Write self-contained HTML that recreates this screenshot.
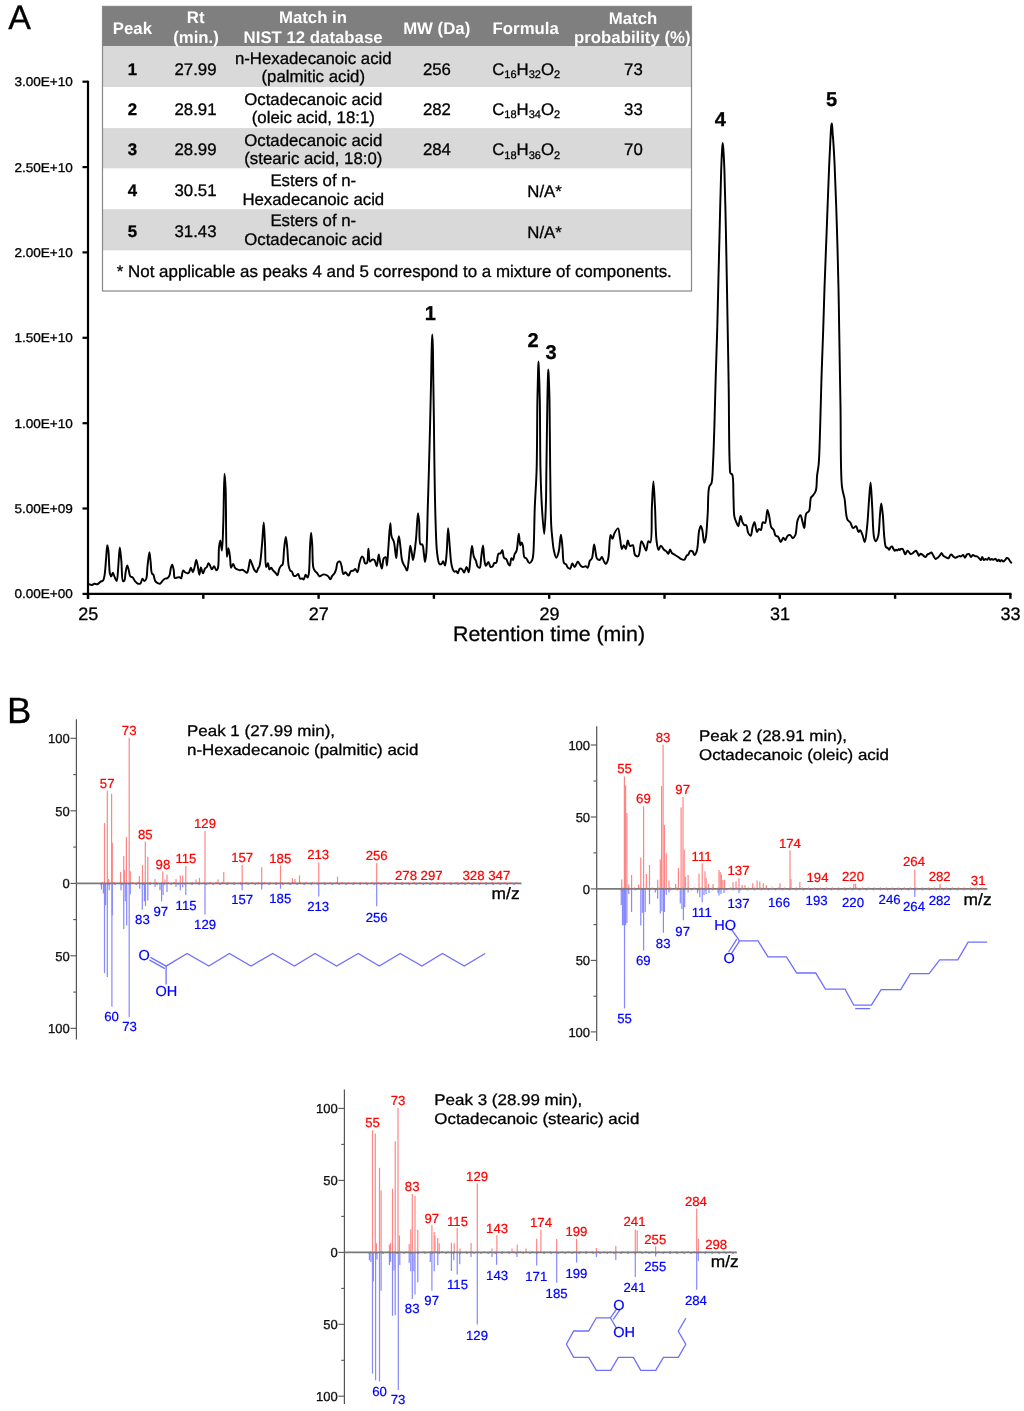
<!DOCTYPE html>
<html><head><meta charset="utf-8"><title>Figure</title>
<style>
html,body{margin:0;padding:0;background:#fff;}
body{width:1024px;height:1411px;overflow:hidden;}
svg{display:block;will-change:transform;font-family:"Liberation Sans", sans-serif;-webkit-font-smoothing:antialiased;}
text{text-rendering:geometricPrecision;}
</style></head>
<body>
<svg width="1024" height="1411" viewBox="0 0 1024 1411">
<rect width="1024" height="1411" fill="#fff"/>
<text x="8.2" y="29" font-size="34" text-anchor="start" font-weight="normal" fill="#000" stroke="#000" stroke-width="0.3">A</text>
<text x="6.9" y="722.6" font-size="36.5" text-anchor="start" font-weight="normal" fill="#000" stroke="#000" stroke-width="0.3">B</text>
<rect x="102.5" y="6.4" width="589.0" height="39.9" fill="#7f7f7f"/>
<rect x="102.5" y="46.3" width="589.0" height="40.900000000000006" fill="#d9d9d9"/>
<rect x="102.5" y="87.2" width="589.0" height="40.89999999999999" fill="#ffffff"/>
<rect x="102.5" y="128.1" width="589.0" height="40.5" fill="#d9d9d9"/>
<rect x="102.5" y="168.6" width="589.0" height="40.599999999999994" fill="#ffffff"/>
<rect x="102.5" y="209.2" width="589.0" height="41.400000000000006" fill="#d9d9d9"/>
<rect x="102.5" y="250.6" width="589.0" height="40.400000000000006" fill="#ffffff"/>
<rect x="102.5" y="6.4" width="589.0" height="284.6" fill="none" stroke="#888" stroke-width="1.2"/>
<text x="132.4" y="33.7" font-size="16.8" text-anchor="middle" font-weight="bold" fill="#ffffff">Peak</text>
<text x="195.7" y="23.4" font-size="16.8" text-anchor="middle" font-weight="bold" fill="#ffffff">Rt</text>
<text x="196" y="42.5" font-size="16.8" text-anchor="middle" font-weight="bold" fill="#ffffff">(min.)</text>
<text x="313" y="23.4" font-size="16.8" text-anchor="middle" font-weight="bold" fill="#ffffff">Match in</text>
<text x="313.1" y="42.5" font-size="16.8" text-anchor="middle" font-weight="bold" fill="#ffffff">NIST 12 database</text>
<text x="436.7" y="34.2" font-size="16.8" text-anchor="middle" font-weight="bold" fill="#ffffff">MW (Da)</text>
<text x="525.7" y="34.2" font-size="16.8" text-anchor="middle" font-weight="bold" fill="#ffffff">Formula</text>
<text x="633.1" y="23.9" font-size="16.8" text-anchor="middle" font-weight="bold" fill="#ffffff">Match</text>
<text x="632.3" y="42.5" font-size="16.8" text-anchor="middle" font-weight="bold" fill="#ffffff">probability (%)</text>
<text x="132.5" y="74.6" font-size="16.8" text-anchor="middle" font-weight="bold" fill="#000" stroke="#000" stroke-width="0.3">1</text>
<text x="195.5" y="74.6" font-size="16.8" text-anchor="middle" font-weight="normal" fill="#000" stroke="#000" stroke-width="0.3">27.99</text>
<text x="313.3" y="64.1" font-size="16.8" text-anchor="middle" font-weight="normal" fill="#000" stroke="#000" stroke-width="0.3">n-Hexadecanoic acid</text>
<text x="313.3" y="81.9" font-size="16.8" text-anchor="middle" font-weight="normal" fill="#000" stroke="#000" stroke-width="0.3">(palmitic acid)</text>
<text x="436.9" y="74.6" font-size="16.8" text-anchor="middle" font-weight="normal" fill="#000" stroke="#000" stroke-width="0.3">256</text>
<text x="526.2" y="74.6" font-size="16.8" text-anchor="middle" stroke="#000" stroke-width="0.3"><tspan dy="0">C</tspan><tspan font-size="11" dy="3.7">16</tspan><tspan dy="-3.7">H</tspan><tspan font-size="11" dy="3.7">32</tspan><tspan dy="-3.7">O</tspan><tspan font-size="11" dy="3.7">2</tspan></text>
<text x="633.4" y="74.6" font-size="16.8" text-anchor="middle" font-weight="normal" fill="#000" stroke="#000" stroke-width="0.3">73</text>
<text x="132.5" y="114.7" font-size="16.8" text-anchor="middle" font-weight="bold" fill="#000" stroke="#000" stroke-width="0.3">2</text>
<text x="195.5" y="114.7" font-size="16.8" text-anchor="middle" font-weight="normal" fill="#000" stroke="#000" stroke-width="0.3">28.91</text>
<text x="313.3" y="105.1" font-size="16.8" text-anchor="middle" font-weight="normal" fill="#000" stroke="#000" stroke-width="0.3">Octadecanoic acid</text>
<text x="313.3" y="123.4" font-size="16.8" text-anchor="middle" font-weight="normal" fill="#000" stroke="#000" stroke-width="0.3">(oleic acid, 18:1)</text>
<text x="436.9" y="114.7" font-size="16.8" text-anchor="middle" font-weight="normal" fill="#000" stroke="#000" stroke-width="0.3">282</text>
<text x="526.2" y="114.7" font-size="16.8" text-anchor="middle" stroke="#000" stroke-width="0.3"><tspan dy="0">C</tspan><tspan font-size="11" dy="3.7">18</tspan><tspan dy="-3.7">H</tspan><tspan font-size="11" dy="3.7">34</tspan><tspan dy="-3.7">O</tspan><tspan font-size="11" dy="3.7">2</tspan></text>
<text x="633.4" y="114.7" font-size="16.8" text-anchor="middle" font-weight="normal" fill="#000" stroke="#000" stroke-width="0.3">33</text>
<text x="132.5" y="154.9" font-size="16.8" text-anchor="middle" font-weight="bold" fill="#000" stroke="#000" stroke-width="0.3">3</text>
<text x="195.5" y="154.9" font-size="16.8" text-anchor="middle" font-weight="normal" fill="#000" stroke="#000" stroke-width="0.3">28.99</text>
<text x="313.3" y="145.5" font-size="16.8" text-anchor="middle" font-weight="normal" fill="#000" stroke="#000" stroke-width="0.3">Octadecanoic acid</text>
<text x="313.3" y="163.7" font-size="16.8" text-anchor="middle" font-weight="normal" fill="#000" stroke="#000" stroke-width="0.3">(stearic acid, 18:0)</text>
<text x="436.9" y="154.9" font-size="16.8" text-anchor="middle" font-weight="normal" fill="#000" stroke="#000" stroke-width="0.3">284</text>
<text x="526.2" y="154.9" font-size="16.8" text-anchor="middle" stroke="#000" stroke-width="0.3"><tspan dy="0">C</tspan><tspan font-size="11" dy="3.7">18</tspan><tspan dy="-3.7">H</tspan><tspan font-size="11" dy="3.7">36</tspan><tspan dy="-3.7">O</tspan><tspan font-size="11" dy="3.7">2</tspan></text>
<text x="633.4" y="154.9" font-size="16.8" text-anchor="middle" font-weight="normal" fill="#000" stroke="#000" stroke-width="0.3">70</text>
<text x="132.5" y="196.3" font-size="16.8" text-anchor="middle" font-weight="bold" fill="#000" stroke="#000" stroke-width="0.3">4</text>
<text x="195.5" y="196.3" font-size="16.8" text-anchor="middle" font-weight="normal" fill="#000" stroke="#000" stroke-width="0.3">30.51</text>
<text x="313.3" y="185.6" font-size="16.8" text-anchor="middle" font-weight="normal" fill="#000" stroke="#000" stroke-width="0.3">Esters of n-</text>
<text x="313.3" y="204.7" font-size="16.8" text-anchor="middle" font-weight="normal" fill="#000" stroke="#000" stroke-width="0.3">Hexadecanoic acid</text>
<text x="544.6" y="196.9" font-size="16.8" text-anchor="middle" font-weight="normal" fill="#000" stroke="#000" stroke-width="0.3">N/A*</text>
<text x="132.5" y="236.9" font-size="16.8" text-anchor="middle" font-weight="bold" fill="#000" stroke="#000" stroke-width="0.3">5</text>
<text x="195.5" y="236.9" font-size="16.8" text-anchor="middle" font-weight="normal" fill="#000" stroke="#000" stroke-width="0.3">31.43</text>
<text x="313.3" y="226.1" font-size="16.8" text-anchor="middle" font-weight="normal" fill="#000" stroke="#000" stroke-width="0.3">Esters of n-</text>
<text x="313.3" y="245.1" font-size="16.8" text-anchor="middle" font-weight="normal" fill="#000" stroke="#000" stroke-width="0.3">Octadecanoic acid</text>
<text x="544.6" y="237.5" font-size="16.8" text-anchor="middle" font-weight="normal" fill="#000" stroke="#000" stroke-width="0.3">N/A*</text>
<text x="116.8" y="277.4" font-size="16.8" text-anchor="start" font-weight="normal" fill="#000" stroke="#000" stroke-width="0.3" textLength="555" lengthAdjust="spacingAndGlyphs">* Not applicable as peaks 4 and 5 correspond to a mixture of components.</text>
<line x1="88" y1="80.7" x2="88" y2="599" stroke="#000" stroke-width="2.2"/>
<line x1="87" y1="593.9" x2="1011.5" y2="593.9" stroke="#000" stroke-width="2.2"/>
<line x1="82.5" y1="81.7" x2="88" y2="81.7" stroke="#000" stroke-width="2.2"/>
<text x="72.9" y="86.1" font-size="12.8" text-anchor="end" font-weight="normal" fill="#000" stroke="#000" stroke-width="0.3" textLength="58.5" lengthAdjust="spacingAndGlyphs">3.00E+10</text>
<line x1="82.5" y1="167.1" x2="88" y2="167.1" stroke="#000" stroke-width="2.2"/>
<text x="72.9" y="171.5" font-size="12.8" text-anchor="end" font-weight="normal" fill="#000" stroke="#000" stroke-width="0.3" textLength="58.5" lengthAdjust="spacingAndGlyphs">2.50E+10</text>
<line x1="82.5" y1="252.4" x2="88" y2="252.4" stroke="#000" stroke-width="2.2"/>
<text x="72.9" y="256.8" font-size="12.8" text-anchor="end" font-weight="normal" fill="#000" stroke="#000" stroke-width="0.3" textLength="58.5" lengthAdjust="spacingAndGlyphs">2.00E+10</text>
<line x1="82.5" y1="337.8" x2="88" y2="337.8" stroke="#000" stroke-width="2.2"/>
<text x="72.9" y="342.2" font-size="12.8" text-anchor="end" font-weight="normal" fill="#000" stroke="#000" stroke-width="0.3" textLength="58.5" lengthAdjust="spacingAndGlyphs">1.50E+10</text>
<line x1="82.5" y1="423.2" x2="88" y2="423.2" stroke="#000" stroke-width="2.2"/>
<text x="72.9" y="427.6" font-size="12.8" text-anchor="end" font-weight="normal" fill="#000" stroke="#000" stroke-width="0.3" textLength="58.5" lengthAdjust="spacingAndGlyphs">1.00E+10</text>
<line x1="82.5" y1="508.5" x2="88" y2="508.5" stroke="#000" stroke-width="2.2"/>
<text x="72.9" y="512.9" font-size="12.8" text-anchor="end" font-weight="normal" fill="#000" stroke="#000" stroke-width="0.3" textLength="58.5" lengthAdjust="spacingAndGlyphs">5.00E+09</text>
<line x1="82.5" y1="593.9" x2="88" y2="593.9" stroke="#000" stroke-width="2.2"/>
<text x="72.9" y="598.3" font-size="12.8" text-anchor="end" font-weight="normal" fill="#000" stroke="#000" stroke-width="0.3" textLength="58.5" lengthAdjust="spacingAndGlyphs">0.00E+00</text>
<line x1="88.0" y1="593.9" x2="88.0" y2="598.8" stroke="#000" stroke-width="2.4"/>
<text x="88.2" y="619.9" font-size="18" text-anchor="middle" font-weight="normal" fill="#000" stroke="#000" stroke-width="0.3">25</text>
<line x1="203.3" y1="593.9" x2="203.3" y2="598.8" stroke="#000" stroke-width="2.4"/>
<line x1="318.6" y1="593.9" x2="318.6" y2="598.8" stroke="#000" stroke-width="2.4"/>
<text x="318.8" y="619.9" font-size="18" text-anchor="middle" font-weight="normal" fill="#000" stroke="#000" stroke-width="0.3">27</text>
<line x1="433.9" y1="593.9" x2="433.9" y2="598.8" stroke="#000" stroke-width="2.4"/>
<line x1="549.2" y1="593.9" x2="549.2" y2="598.8" stroke="#000" stroke-width="2.4"/>
<text x="549.4" y="619.9" font-size="18" text-anchor="middle" font-weight="normal" fill="#000" stroke="#000" stroke-width="0.3">29</text>
<line x1="664.5" y1="593.9" x2="664.5" y2="598.8" stroke="#000" stroke-width="2.4"/>
<line x1="779.8" y1="593.9" x2="779.8" y2="598.8" stroke="#000" stroke-width="2.4"/>
<text x="780.0" y="619.9" font-size="18" text-anchor="middle" font-weight="normal" fill="#000" stroke="#000" stroke-width="0.3">31</text>
<line x1="895.1" y1="593.9" x2="895.1" y2="598.8" stroke="#000" stroke-width="2.4"/>
<line x1="1010.4" y1="593.9" x2="1010.4" y2="598.8" stroke="#000" stroke-width="2.4"/>
<text x="1010.6" y="619.9" font-size="18" text-anchor="middle" font-weight="normal" fill="#000" stroke="#000" stroke-width="0.3">33</text>
<text x="549" y="640.5" font-size="21" text-anchor="middle" font-weight="normal" fill="#000" stroke="#000" stroke-width="0.3" textLength="192" lengthAdjust="spacingAndGlyphs">Retention time (min)</text>
<text x="430.4" y="319.9" font-size="20" text-anchor="middle" font-weight="bold" fill="#000" stroke="#000" stroke-width="0.3">1</text>
<text x="533" y="346.6" font-size="20" text-anchor="middle" font-weight="bold" fill="#000" stroke="#000" stroke-width="0.3">2</text>
<text x="551" y="358.6" font-size="20" text-anchor="middle" font-weight="bold" fill="#000" stroke="#000" stroke-width="0.3">3</text>
<text x="720.2" y="126.4" font-size="20" text-anchor="middle" font-weight="bold" fill="#000" stroke="#000" stroke-width="0.3">4</text>
<text x="831.5" y="105.8" font-size="20" text-anchor="middle" font-weight="bold" fill="#000" stroke="#000" stroke-width="0.3">5</text>
<path d="M88.90,584.20 C88.90,584.20 91.05,585.11 92.00,585.00 C92.87,584.90 93.52,583.90 94.40,583.75 C95.34,583.59 96.52,584.48 97.50,584.20 C98.61,583.89 99.59,582.22 100.60,581.60 C101.41,581.11 102.38,581.28 103.00,580.60 C103.87,579.63 104.07,577.79 104.50,575.60 C105.28,571.61 105.61,563.75 106.10,558.40 C106.53,553.71 106.80,545.23 107.30,545.20 C107.62,545.18 108.07,548.15 108.40,550.60 C109.08,555.65 108.95,570.26 110.00,574.00 C110.36,575.27 110.83,576.42 111.25,576.40 C111.76,576.38 112.26,572.80 112.80,572.80 C113.40,572.80 114.03,575.79 114.70,577.20 C115.34,578.55 116.17,581.20 116.70,581.10 C117.69,580.92 117.81,571.49 118.30,566.25 C118.85,560.37 119.24,547.51 119.80,547.50 C120.29,547.49 120.90,556.52 121.40,561.60 C121.98,567.57 121.56,580.17 123.00,581.10 C123.40,581.36 124.02,581.06 124.40,580.60 C125.29,579.52 125.11,575.09 125.60,572.50 C126.06,570.07 126.62,565.53 127.20,565.50 C127.68,565.48 128.26,568.52 128.75,570.20 C129.30,572.11 129.34,575.24 130.30,576.40 C130.92,577.14 131.99,576.88 132.70,577.50 C133.61,578.29 134.09,580.05 135.00,581.10 C135.89,582.13 137.06,583.45 138.10,583.75 C138.90,583.98 139.84,583.91 140.50,583.40 C141.46,582.67 141.75,578.85 142.50,578.75 C143.08,578.67 143.77,581.10 144.40,581.10 C145.02,581.10 145.77,579.94 146.25,578.75 C147.24,576.30 147.00,570.53 147.50,566.25 C148.04,561.70 148.85,552.20 149.40,552.20 C149.85,552.20 150.21,558.29 150.60,561.60 C151.04,565.29 150.94,571.31 151.90,573.30 C152.31,574.14 152.95,574.05 153.40,574.80 C154.19,576.12 154.35,579.67 155.30,581.10 C155.95,582.08 156.86,582.66 157.70,583.10 C158.44,583.49 159.29,583.96 160.00,583.75 C160.86,583.49 161.51,581.94 162.30,581.10 C163.08,580.28 163.83,579.18 164.70,578.75 C165.42,578.39 166.29,578.79 167.00,578.40 C167.89,577.90 168.79,576.87 169.40,575.60 C170.30,573.73 170.30,569.79 170.90,567.80 C171.29,566.51 171.78,564.67 172.20,564.70 C172.74,564.73 173.33,568.19 173.75,570.20 C174.24,572.56 173.75,577.26 174.80,578.00 C175.38,578.41 176.41,577.63 177.20,577.50 C177.97,577.37 178.83,577.04 179.50,577.20 C180.11,577.35 180.63,578.47 181.10,578.30 C182.04,577.95 182.13,570.91 183.10,570.60 C183.64,570.43 184.31,571.75 185.00,572.20 C185.70,572.65 186.59,573.25 187.30,573.30 C187.87,573.34 188.42,573.24 188.90,572.80 C189.75,572.01 190.23,567.81 190.90,567.80 C191.53,567.79 192.21,572.22 192.80,572.20 C193.38,572.18 193.89,569.49 194.40,567.80 C195.06,565.59 195.65,560.00 196.25,560.00 C196.78,560.00 197.31,564.00 197.80,566.25 C198.37,568.87 198.86,574.80 199.40,574.80 C199.90,574.80 200.26,567.55 200.90,567.50 C201.48,567.46 202.28,573.28 203.00,573.30 C203.65,573.32 204.19,569.69 205.00,568.60 C205.56,567.84 206.37,567.74 206.90,567.00 C207.58,566.04 207.82,563.16 208.40,563.10 C208.88,563.05 209.47,564.58 210.00,565.50 C210.64,566.62 211.19,569.34 211.90,569.40 C212.57,569.45 213.40,566.21 214.10,566.25 C214.86,566.29 215.52,570.10 216.25,570.20 C216.76,570.27 217.38,569.56 217.80,568.60 C219.10,565.64 218.38,552.63 219.00,547.50 C219.36,544.52 219.86,540.49 220.30,540.50 C220.83,540.51 221.46,550.62 221.90,550.60 C222.63,550.56 222.90,533.15 223.30,522.50 C223.82,508.48 223.92,473.77 224.50,473.75 C224.81,473.74 225.29,481.46 225.60,488.00 C226.29,502.35 225.75,556.81 226.90,556.90 C227.31,556.93 227.88,548.30 228.40,548.30 C228.92,548.30 229.56,553.85 230.00,556.90 C230.49,560.31 230.31,567.65 231.10,567.80 C231.60,567.89 232.45,563.89 233.10,563.90 C233.75,563.91 234.19,566.85 235.00,567.80 C235.65,568.56 236.49,569.00 237.30,569.40 C238.07,569.78 238.88,570.13 239.70,570.20 C240.54,570.27 241.48,569.64 242.30,569.80 C243.15,569.97 243.91,570.75 244.70,571.25 C245.48,571.75 246.39,573.01 247.00,572.80 C247.84,572.51 248.11,569.68 248.60,567.80 C249.21,565.44 249.54,559.77 250.20,559.70 C250.64,559.65 251.16,561.79 251.70,563.10 C252.43,564.87 253.16,567.78 254.10,569.40 C254.79,570.59 255.76,572.29 256.40,572.20 C257.07,572.11 257.45,569.69 258.00,568.60 C258.48,567.65 259.05,567.34 259.50,566.00 C260.66,562.51 261.21,552.86 261.90,545.90 C262.64,538.40 263.23,522.49 263.75,522.50 C264.25,522.51 264.61,537.04 265.00,544.40 C265.40,551.87 265.12,566.79 266.10,567.00 C266.43,567.07 266.94,565.40 267.30,564.70 C267.60,564.12 267.85,563.07 268.10,563.10 C268.58,563.16 268.62,569.13 269.40,569.40 C269.88,569.56 270.70,567.72 271.25,567.80 C271.84,567.89 272.18,569.44 272.80,570.20 C273.47,571.02 274.43,571.67 275.20,572.50 C276.00,573.37 276.89,575.43 277.50,575.30 C278.29,575.13 278.44,571.07 279.10,569.40 C279.62,568.08 280.23,566.82 280.90,566.00 C281.39,565.40 282.06,565.52 282.50,564.70 C283.73,562.43 283.51,553.89 284.10,549.00 C284.62,544.70 285.27,536.90 285.80,536.90 C286.30,536.90 286.77,543.46 287.20,547.50 C287.78,552.86 287.88,562.22 288.75,566.25 C289.18,568.25 289.60,569.69 290.30,570.60 C290.76,571.19 291.41,571.12 291.90,571.70 C292.66,572.59 292.98,575.40 293.90,575.90 C294.56,576.26 295.55,575.91 296.25,575.60 C296.96,575.28 297.54,573.87 298.10,574.00 C298.92,574.18 299.27,578.26 300.20,578.75 C300.78,579.06 301.60,578.26 302.20,578.40 C302.78,578.53 303.29,579.64 303.75,579.50 C304.51,579.27 304.89,574.88 305.60,574.80 C306.17,574.73 306.98,577.57 307.50,577.50 C308.05,577.43 308.40,575.75 308.75,574.00 C309.67,569.33 309.54,555.05 310.00,547.50 C310.34,541.85 310.71,532.70 311.10,532.70 C311.45,532.70 311.87,539.83 312.20,544.40 C312.67,550.86 312.31,563.65 313.40,567.80 C313.83,569.42 314.33,570.07 315.00,571.00 C315.64,571.89 316.55,572.45 317.30,573.30 C318.12,574.23 318.87,576.24 319.70,576.40 C320.32,576.52 320.95,575.63 321.60,575.30 C322.25,574.97 322.90,574.49 323.60,574.40 C324.33,574.31 325.16,574.50 325.90,574.80 C326.73,575.13 327.59,575.71 328.30,576.40 C329.07,577.15 329.66,579.23 330.30,579.20 C330.97,579.17 331.48,576.90 332.20,575.90 C332.89,574.94 333.87,574.32 334.50,573.30 C335.20,572.18 335.62,570.92 336.10,569.40 C336.73,567.41 336.66,563.42 337.70,562.30 C338.30,561.66 339.40,561.29 340.00,561.60 C340.86,562.04 341.09,564.49 341.60,566.25 C342.24,568.49 342.43,573.68 343.40,574.00 C343.97,574.19 344.88,572.15 345.50,572.20 C346.07,572.25 346.48,573.43 347.00,574.00 C347.51,574.56 348.07,575.68 348.60,575.60 C349.38,575.48 349.92,572.03 350.90,571.25 C351.59,570.70 352.57,570.97 353.30,570.60 C354.04,570.22 354.67,568.91 355.30,569.00 C356.08,569.12 356.89,572.32 357.50,572.20 C358.45,572.01 358.69,565.85 359.50,563.10 C360.20,560.73 360.99,556.87 361.90,556.60 C362.37,556.46 362.97,557.09 363.40,557.70 C364.15,558.76 364.11,562.44 365.00,563.10 C365.51,563.48 366.39,563.56 366.90,563.10 C368.31,561.83 367.87,548.76 368.40,548.75 C368.90,548.75 368.84,561.19 370.00,561.60 C370.53,561.79 371.24,559.95 372.00,559.70 C372.72,559.46 373.73,559.47 374.40,560.00 C375.52,560.89 376.04,566.31 376.70,566.25 C377.58,566.17 378.11,554.50 378.75,554.50 C379.30,554.50 379.70,560.57 380.30,563.10 C380.78,565.15 381.40,568.63 381.90,568.60 C382.57,568.57 382.64,560.07 383.75,558.40 C384.26,557.63 385.12,556.98 385.60,557.20 C386.54,557.62 386.50,565.51 386.90,565.50 C387.48,565.48 387.88,553.94 388.40,547.50 C389.00,540.03 389.69,523.31 390.30,523.30 C390.75,523.30 390.73,533.20 391.60,536.60 C392.18,538.85 393.24,539.67 393.90,542.00 C394.99,545.89 395.66,558.11 396.25,558.10 C396.73,558.09 396.87,551.09 397.30,547.50 C397.75,543.76 398.37,536.10 398.90,536.10 C399.43,536.10 399.99,543.61 400.50,547.50 C401.03,551.57 401.27,556.93 402.00,560.00 C402.45,561.87 403.00,563.15 403.60,564.40 C404.09,565.41 404.67,566.05 405.20,567.00 C405.81,568.09 406.49,570.68 407.00,570.60 C407.83,570.47 408.23,563.81 408.75,560.00 C409.35,555.57 409.68,545.63 410.30,545.60 C410.77,545.58 411.43,551.21 411.90,553.75 C412.31,555.97 412.60,560.00 413.00,560.00 C413.45,560.00 414.04,555.19 414.50,552.20 C415.11,548.20 415.59,543.47 416.10,538.10 C416.78,530.96 417.36,513.12 418.00,513.10 C418.40,513.09 418.85,518.71 419.20,522.50 C419.74,528.27 418.78,542.77 420.50,544.40 C420.99,544.87 421.81,543.99 422.30,544.40 C423.42,545.35 423.44,550.74 423.90,553.75 C424.33,556.56 424.61,561.90 425.00,561.90 C425.39,561.90 425.89,557.60 426.25,553.75 C427.10,544.57 427.34,521.59 427.80,506.90 C428.21,493.87 428.53,483.23 428.90,470.00 C429.33,454.60 429.82,435.74 430.20,420.00 C430.54,405.92 430.83,392.89 431.10,380.00 C431.36,367.94 431.52,353.26 431.80,345.00 C431.95,340.48 432.13,334.50 432.30,334.50 C432.47,334.50 432.66,340.48 432.80,345.00 C433.06,353.26 433.12,367.94 433.30,380.00 C433.49,392.89 433.71,405.92 433.90,420.00 C434.11,435.74 434.22,453.13 434.50,470.00 C434.78,487.29 435.05,507.26 435.60,522.50 C436.02,534.26 436.16,546.22 437.20,553.75 C437.80,558.09 438.19,562.85 439.50,563.90 C440.09,564.37 441.03,564.23 441.60,563.90 C442.29,563.50 442.59,561.23 443.10,561.25 C443.72,561.28 444.48,565.57 445.00,565.50 C445.83,565.38 446.14,558.42 446.60,553.75 C447.27,546.90 447.52,528.31 448.10,528.30 C448.58,528.29 449.17,540.07 449.70,545.90 C450.22,551.67 450.53,558.80 451.25,563.10 C451.69,565.74 452.11,567.86 452.80,569.40 C453.26,570.41 453.75,571.45 454.40,571.70 C454.94,571.90 455.71,571.06 456.25,571.25 C456.87,571.47 457.30,573.36 457.80,573.30 C458.50,573.21 458.86,569.02 459.80,568.60 C460.46,568.30 461.52,568.86 462.20,569.40 C463.01,570.04 463.46,572.54 464.10,572.50 C464.92,572.45 465.81,566.99 466.60,567.00 C467.36,567.01 468.18,572.28 468.75,572.20 C469.59,572.09 469.78,564.21 470.30,560.00 C470.86,555.47 471.36,545.92 472.00,545.90 C472.57,545.89 473.00,554.21 473.90,556.90 C474.46,558.58 475.33,559.36 475.90,560.80 C476.55,562.44 476.65,565.06 477.50,566.25 C478.08,567.07 479.12,568.05 479.70,567.80 C480.86,567.30 480.71,560.57 481.25,556.90 C481.81,553.14 482.50,545.49 483.00,545.50 C483.57,545.52 483.75,556.25 484.40,560.00 C484.82,562.42 485.16,565.78 485.90,565.90 C486.55,566.00 487.64,561.84 488.40,561.90 C489.22,561.96 489.64,566.58 490.60,567.00 C491.21,567.26 492.13,566.76 492.70,566.25 C493.41,565.61 493.48,563.63 494.20,563.10 C494.75,562.69 495.68,563.32 496.25,562.80 C497.46,561.69 497.18,554.89 498.40,553.75 C498.98,553.20 499.90,553.81 500.50,553.40 C501.27,552.86 501.79,550.22 502.30,550.30 C503.05,550.41 503.00,556.25 504.00,557.70 C504.60,558.56 505.61,558.43 506.25,559.20 C507.14,560.26 507.57,562.79 508.30,563.90 C508.78,564.63 509.37,565.62 509.80,565.50 C510.59,565.28 510.61,558.30 511.40,558.10 C511.85,557.99 512.55,560.10 513.00,560.00 C513.69,559.85 513.84,556.14 514.50,554.50 C515.08,553.05 516.01,552.43 516.60,550.60 C517.75,547.02 518.08,533.75 518.75,533.75 C519.30,533.75 519.56,545.08 520.30,545.20 C520.68,545.26 521.18,542.49 521.60,542.50 C522.02,542.51 522.45,543.94 522.80,545.20 C523.52,547.74 523.23,555.35 524.40,557.20 C524.90,557.99 525.62,557.78 526.25,558.40 C527.26,559.40 528.33,563.02 529.40,563.10 C530.32,563.17 531.55,561.33 532.20,560.00 C533.00,558.36 532.98,556.82 533.30,553.75 C534.16,545.41 534.21,521.58 534.80,506.90 C535.33,493.86 536.17,484.26 536.60,470.00 C537.19,450.37 537.08,418.46 537.40,400.00 C537.61,387.91 537.86,376.95 538.10,370.00 C538.23,366.30 538.37,361.50 538.50,361.50 C538.63,361.50 538.76,366.30 538.90,370.00 C539.17,376.95 539.56,387.91 539.80,400.00 C540.17,418.46 540.03,450.37 540.50,470.00 C540.84,484.25 541.20,495.55 541.90,506.90 C542.50,516.64 543.55,534.01 544.20,534.00 C544.85,533.99 545.43,516.63 545.80,506.90 C546.23,495.55 546.18,484.25 546.40,470.00 C546.70,450.37 547.09,416.76 547.40,400.00 C547.57,390.60 547.70,383.62 547.90,378.00 C548.02,374.50 548.15,369.50 548.30,369.50 C548.45,369.50 548.64,374.50 548.80,378.00 C549.05,383.62 549.30,390.60 549.50,400.00 C549.85,416.76 549.88,448.01 550.20,470.00 C550.48,489.60 550.64,513.68 551.25,525.60 C551.54,531.26 551.86,533.94 552.30,538.10 C552.74,542.27 553.09,547.05 553.90,550.60 C554.52,553.33 555.42,557.66 556.25,557.70 C556.99,557.73 557.94,554.61 558.60,552.20 C559.73,548.06 560.21,534.70 560.90,534.70 C561.49,534.70 562.00,543.02 562.50,547.50 C563.05,552.44 562.60,560.84 564.00,563.10 C564.56,564.00 565.49,563.76 566.10,564.40 C566.87,565.21 567.18,567.11 568.00,567.80 C568.65,568.34 569.66,568.90 570.30,568.60 C571.26,568.15 571.51,563.49 572.30,563.40 C573.00,563.32 573.87,567.03 574.70,567.00 C575.69,566.97 576.77,561.64 577.80,561.60 C578.70,561.56 579.54,564.57 580.50,565.50 C581.23,566.21 581.94,566.85 582.80,567.00 C583.73,567.16 585.03,566.05 585.90,566.25 C586.66,566.42 587.26,567.97 587.80,567.80 C588.74,567.51 588.90,562.46 589.80,560.80 C590.40,559.70 591.31,559.65 591.90,558.40 C593.14,555.75 593.40,544.41 594.10,544.40 C594.62,544.39 595.11,549.75 595.60,552.20 C596.04,554.39 595.96,557.10 596.90,558.40 C597.57,559.33 598.89,560.18 599.70,560.00 C600.58,559.81 601.23,556.84 601.90,556.90 C602.65,556.97 603.18,560.01 603.90,561.25 C604.50,562.27 605.18,563.95 605.80,563.90 C606.59,563.83 607.45,561.46 608.10,559.20 C609.49,554.34 609.30,535.23 610.60,535.00 C611.15,534.90 611.91,538.94 612.50,538.90 C613.19,538.86 613.50,535.13 614.40,533.40 C615.32,531.62 617.10,528.21 618.00,528.40 C619.14,528.64 619.37,534.77 620.00,538.10 C620.67,541.62 621.04,548.88 621.90,549.00 C622.43,549.07 623.10,545.21 623.75,545.20 C624.40,545.19 625.21,549.08 625.80,549.00 C626.65,548.89 627.01,540.56 627.80,540.50 C628.45,540.45 628.92,545.35 630.00,545.90 C630.76,546.29 632.04,544.74 632.80,545.20 C634.24,546.07 633.72,553.79 635.20,555.30 C636.02,556.14 637.44,556.63 638.30,556.10 C640.17,554.94 640.12,541.46 641.40,541.25 C642.11,541.13 643.01,543.76 643.75,545.20 C644.59,546.84 645.40,550.66 646.10,550.60 C647.00,550.52 647.27,541.69 648.40,541.25 C648.95,541.03 649.77,542.77 650.30,542.50 C652.41,541.42 651.33,517.75 651.90,506.90 C652.38,497.75 652.88,481.60 653.40,481.60 C653.92,481.60 654.50,497.82 655.00,506.90 C655.58,517.47 655.54,533.66 656.60,541.25 C657.13,545.09 657.72,549.68 658.60,549.80 C659.25,549.89 660.02,545.66 660.90,545.60 C661.81,545.54 662.94,548.79 664.00,549.80 C664.79,550.55 665.68,550.76 666.40,551.40 C667.15,552.07 667.84,553.85 668.40,553.75 C669.09,553.63 669.39,549.44 670.00,549.40 C670.57,549.36 671.04,552.06 671.90,553.00 C672.72,553.90 673.96,554.35 675.00,555.00 C676.03,555.65 677.08,556.21 678.10,556.90 C679.16,557.61 680.14,558.74 681.25,559.20 C682.25,559.62 683.54,560.12 684.40,559.70 C685.45,559.19 685.89,556.48 686.70,555.60 C687.22,555.03 687.80,555.05 688.30,554.50 C689.03,553.69 689.45,551.28 690.30,550.90 C690.93,550.62 691.87,550.93 692.50,551.40 C693.35,552.04 693.81,555.00 694.50,555.00 C695.27,555.00 696.24,552.69 696.90,550.60 C698.23,546.38 698.20,534.56 699.20,530.30 C699.68,528.26 700.27,525.90 700.80,525.90 C701.31,525.90 701.85,528.22 702.30,530.00 C703.08,533.06 703.43,542.72 704.20,542.80 C704.65,542.84 705.26,540.63 705.70,538.60 C706.73,533.81 707.12,522.15 707.70,513.70 C708.30,504.96 707.73,491.83 709.20,487.00 C709.80,485.01 710.90,484.99 711.50,483.10 C712.72,479.22 712.57,471.47 713.00,464.00 C713.61,453.44 713.97,439.18 714.40,425.70 C714.88,410.63 715.23,393.76 715.70,377.80 C716.17,361.86 716.75,346.11 717.20,330.00 C717.66,313.52 718.00,296.13 718.40,280.00 C718.77,264.86 719.09,252.15 719.50,236.00 C720.00,216.22 720.65,185.62 721.20,170.00 C721.50,161.40 721.78,154.95 722.10,150.00 C722.29,147.07 722.48,143.00 722.70,143.00 C722.92,143.00 723.18,147.06 723.40,150.00 C723.77,154.95 724.08,161.40 724.40,170.00 C724.98,185.62 725.55,215.10 726.00,236.00 C726.40,254.90 726.68,272.35 727.00,290.00 C727.31,306.99 727.61,323.56 727.90,340.00 C728.18,356.01 728.44,369.71 728.70,387.40 C729.04,409.88 728.98,450.71 729.70,464.00 C729.95,468.69 729.68,472.01 730.60,473.50 C731.01,474.16 731.76,473.75 732.20,474.50 C733.78,477.17 733.11,490.97 733.50,498.40 C733.84,504.88 733.56,512.29 734.40,516.60 C734.89,519.08 735.69,520.60 736.40,522.30 C737.00,523.74 737.72,526.27 738.30,526.20 C739.20,526.10 739.82,516.03 740.60,516.00 C741.22,515.98 741.73,520.65 742.50,522.30 C743.06,523.50 743.64,524.79 744.40,525.20 C744.96,525.50 745.77,524.79 746.30,525.20 C747.38,526.04 747.22,531.05 748.20,532.90 C748.87,534.17 750.03,535.87 750.70,535.70 C751.72,535.43 751.86,529.53 752.60,527.10 C753.17,525.24 753.88,522.26 754.50,522.30 C755.36,522.35 756.02,531.74 757.00,531.90 C757.58,532.00 758.16,529.20 758.90,529.00 C759.50,528.84 760.35,530.25 760.90,530.00 C761.94,529.52 761.67,522.97 762.80,522.30 C763.42,521.93 764.46,523.31 765.10,522.90 C766.60,521.94 766.57,509.94 767.40,509.90 C768.00,509.87 768.72,514.10 769.30,516.60 C770.02,519.69 770.09,524.78 771.20,527.10 C771.86,528.49 773.01,528.79 773.70,530.00 C774.56,531.52 774.60,534.64 775.60,535.70 C776.27,536.41 777.36,536.02 778.10,536.70 C779.21,537.72 779.89,542.08 780.80,542.10 C781.63,542.12 782.48,537.76 783.30,537.70 C783.94,537.65 784.56,540.15 785.20,540.10 C786.02,540.04 786.65,536.45 787.70,535.70 C788.46,535.16 789.51,534.92 790.30,535.20 C791.25,535.54 791.97,538.20 792.80,538.20 C793.63,538.20 794.62,536.71 795.30,535.20 C796.64,532.24 796.35,523.97 797.60,520.40 C798.38,518.17 799.71,515.21 800.50,515.30 C801.33,515.39 801.78,519.31 802.40,521.40 C803.05,523.58 803.75,528.14 804.30,528.10 C805.10,528.04 804.78,516.52 806.20,513.70 C806.95,512.22 808.35,512.36 809.10,510.90 C810.47,508.22 809.82,499.86 811.00,497.50 C811.53,496.45 812.25,496.43 812.90,495.60 C813.84,494.40 815.10,492.96 815.80,490.80 C816.96,487.23 816.57,480.23 817.10,475.50 C817.56,471.39 818.26,468.97 818.70,464.00 C819.50,454.98 819.75,439.18 820.20,425.70 C820.70,410.63 821.00,393.76 821.50,377.80 C822.00,361.86 822.69,345.42 823.20,330.00 C823.68,315.55 823.97,303.27 824.50,288.00 C825.13,269.67 826.02,247.85 826.80,227.50 C827.59,206.79 828.50,180.94 829.20,164.80 C829.64,154.65 829.98,147.23 830.40,140.00 C830.72,134.37 830.93,127.39 831.40,125.00 C831.55,124.23 831.75,123.48 831.90,123.50 C832.26,123.54 832.37,130.08 832.60,133.00 C832.80,135.51 832.98,136.95 833.20,140.00 C833.61,145.73 834.13,154.65 834.60,164.80 C835.35,180.94 836.25,206.76 836.90,227.50 C837.54,247.92 838.10,269.94 838.50,288.30 C838.83,303.51 838.93,314.00 839.20,330.00 C839.57,351.68 840.04,380.77 840.50,406.60 C840.97,433.05 840.29,472.25 842.00,486.90 C842.66,492.51 843.72,493.97 844.50,498.40 C845.56,504.36 845.60,515.87 847.40,519.50 C848.18,521.07 849.34,521.11 850.20,522.30 C851.29,523.82 851.93,527.78 853.10,528.10 C853.96,528.33 855.18,525.96 856.00,526.20 C857.10,526.53 857.61,531.72 858.50,531.90 C859.05,532.01 859.66,530.20 860.20,530.30 C861.02,530.45 861.79,533.25 862.50,535.00 C863.34,537.08 864.13,542.06 864.80,542.00 C865.81,541.91 866.53,531.74 867.20,525.60 C868.05,517.81 868.47,506.81 869.10,499.00 C869.60,492.84 870.13,482.49 870.60,482.50 C871.17,482.51 871.64,498.27 872.20,506.90 C872.83,516.66 872.84,533.15 874.20,538.10 C874.66,539.77 875.22,541.25 875.80,541.25 C876.50,541.25 877.48,538.80 878.10,536.60 C879.37,532.07 879.40,520.78 880.00,514.70 C880.43,510.34 880.78,503.51 881.25,503.50 C881.72,503.49 882.34,510.28 882.80,514.70 C883.46,521.07 883.70,532.18 884.40,538.10 C884.83,541.75 884.88,545.35 885.90,546.90 C886.43,547.70 887.34,547.69 887.90,548.20 C888.42,548.67 888.79,549.84 889.20,549.80 C889.67,549.76 889.95,547.96 890.50,547.40 C890.95,546.94 891.66,546.38 892.10,546.50 C892.59,546.64 892.78,547.82 893.20,548.50 C893.67,549.25 894.25,550.71 894.80,550.80 C895.22,550.87 895.65,549.85 896.10,549.80 C896.52,549.75 896.99,550.47 897.40,550.40 C897.86,550.32 898.28,549.12 898.70,549.10 C899.07,549.08 899.42,550.00 899.80,550.00 C900.22,550.00 900.61,549.05 901.10,548.90 C901.58,548.76 902.26,548.78 902.70,549.10 C903.30,549.53 903.57,550.87 904.00,551.75 C904.43,552.63 904.80,554.38 905.30,554.40 C905.90,554.42 906.67,550.93 907.40,550.80 C907.92,550.71 908.49,551.60 909.00,552.10 C909.56,552.65 909.99,553.82 910.60,554.00 C911.11,554.15 911.74,553.81 912.30,553.50 C912.98,553.13 913.65,552.22 914.30,551.75 C914.84,551.36 915.40,550.70 915.90,550.80 C916.52,550.92 917.10,552.29 917.60,553.10 C918.10,553.92 918.38,555.64 918.90,555.70 C919.39,555.76 920.03,553.81 920.60,553.70 C921.03,553.62 921.46,554.11 921.90,554.40 C922.42,554.75 922.93,555.28 923.50,555.70 C924.12,556.15 924.88,557.11 925.50,557.00 C926.23,556.88 926.76,554.95 927.50,554.40 C928.09,553.97 928.78,554.01 929.40,553.70 C930.08,553.36 930.85,552.28 931.40,552.40 C931.95,552.52 932.27,553.68 932.70,554.40 C933.17,555.20 933.59,556.21 934.10,557.00 C934.57,557.73 934.98,558.89 935.60,559.00 C936.26,559.11 937.27,558.02 938.00,557.40 C938.73,556.78 939.38,556.02 940.00,555.30 C940.61,554.59 941.16,553.07 941.70,553.10 C942.26,553.13 942.65,555.03 943.30,555.70 C943.88,556.29 944.63,556.61 945.30,557.00 C945.93,557.37 946.60,557.78 947.20,558.00 C947.69,558.18 948.20,558.49 948.60,558.30 C949.17,558.03 949.40,556.39 949.90,555.70 C950.29,555.15 950.72,554.40 951.20,554.40 C951.80,554.40 952.51,555.83 953.20,556.40 C953.82,556.91 954.44,557.61 955.10,557.70 C955.74,557.78 956.44,557.26 957.10,557.00 C957.77,556.73 958.42,556.19 959.10,556.10 C959.75,556.01 960.46,556.55 961.10,556.40 C961.80,556.24 962.49,554.89 963.10,555.00 C963.81,555.12 964.37,557.72 965.00,557.70 C965.68,557.68 966.19,554.97 967.00,554.40 C967.59,553.99 968.40,553.75 969.00,554.00 C969.79,554.33 970.30,556.94 971.00,557.00 C971.61,557.05 972.21,555.11 972.90,555.00 C973.52,554.90 974.21,555.87 974.90,556.10 C975.55,556.32 976.27,556.12 976.90,556.40 C977.61,556.71 978.25,557.41 978.90,558.00 C979.59,558.63 980.36,560.20 980.90,560.10 C981.48,559.99 981.71,557.03 982.20,557.00 C982.70,556.97 983.25,559.94 983.90,560.10 C984.39,560.22 984.92,559.07 985.50,559.00 C986.09,558.93 986.87,559.87 987.40,559.70 C987.99,559.52 988.35,557.69 988.80,557.70 C989.25,557.71 989.55,559.53 990.10,559.70 C990.58,559.85 991.24,558.99 991.80,559.00 C992.34,559.01 992.84,559.71 993.40,559.70 C994.03,559.68 994.79,558.57 995.40,558.70 C996.11,558.85 996.69,560.96 997.30,561.00 C997.78,561.03 998.26,559.66 998.70,559.70 C999.16,559.74 999.51,561.34 1000.00,561.40 C1000.48,561.46 1001.06,560.09 1001.60,560.10 C1002.16,560.11 1002.73,561.60 1003.30,561.60 C1003.87,561.60 1004.44,560.66 1005.00,560.10 C1005.61,559.48 1006.15,558.16 1006.80,558.00 C1007.33,557.87 1008.02,558.29 1008.50,558.70 C1009.09,559.20 1009.42,560.30 1009.90,561.00 C1010.33,561.62 1011.20,562.70 1011.20,562.70" fill="none" stroke="#000" stroke-width="1.95" stroke-linejoin="round" stroke-linecap="round"/>
<line x1="76.4" y1="719.2" x2="76.4" y2="1039.5" stroke="#555555" stroke-width="1.2"/>
<line x1="70.4" y1="738.3" x2="76.4" y2="738.3" stroke="#555555" stroke-width="1.1"/>
<text x="69.80000000000001" y="743.1" font-size="13" text-anchor="end" font-weight="normal" fill="#111" stroke="#111" stroke-width="0.3">100</text>
<line x1="73.2" y1="774.6" x2="76.4" y2="774.6" stroke="#555555" stroke-width="1.1"/>
<line x1="70.4" y1="810.8" x2="76.4" y2="810.8" stroke="#555555" stroke-width="1.1"/>
<text x="69.80000000000001" y="815.6" font-size="13" text-anchor="end" font-weight="normal" fill="#111" stroke="#111" stroke-width="0.3">50</text>
<line x1="73.2" y1="847.1" x2="76.4" y2="847.1" stroke="#555555" stroke-width="1.1"/>
<line x1="70.4" y1="883.4" x2="76.4" y2="883.4" stroke="#555555" stroke-width="1.1"/>
<text x="69.80000000000001" y="888.2" font-size="13" text-anchor="end" font-weight="normal" fill="#111" stroke="#111" stroke-width="0.3">0</text>
<line x1="73.2" y1="919.6" x2="76.4" y2="919.6" stroke="#555555" stroke-width="1.1"/>
<line x1="70.4" y1="955.8" x2="76.4" y2="955.8" stroke="#555555" stroke-width="1.1"/>
<text x="69.80000000000001" y="960.6" font-size="13" text-anchor="end" font-weight="normal" fill="#111" stroke="#111" stroke-width="0.3">50</text>
<line x1="73.2" y1="992.1" x2="76.4" y2="992.1" stroke="#555555" stroke-width="1.1"/>
<line x1="70.4" y1="1028.3" x2="76.4" y2="1028.3" stroke="#555555" stroke-width="1.1"/>
<text x="69.80000000000001" y="1033.1" font-size="13" text-anchor="end" font-weight="normal" fill="#111" stroke="#111" stroke-width="0.3">100</text>
<line x1="104.5" y1="883.4" x2="104.5" y2="823.1" stroke="#ff8585" stroke-width="1.2"/>
<line x1="107.3" y1="883.4" x2="107.3" y2="790.6" stroke="#ff8585" stroke-width="1.2"/>
<line x1="108.6" y1="883.4" x2="108.6" y2="879" stroke="#ff8585" stroke-width="1.2"/>
<line x1="111.6" y1="883.4" x2="111.6" y2="793.75" stroke="#ff8585" stroke-width="1.2"/>
<line x1="112.3" y1="883.4" x2="112.3" y2="842.7" stroke="#ff8585" stroke-width="1.2"/>
<line x1="120.6" y1="883.4" x2="120.6" y2="871.9" stroke="#ff8585" stroke-width="1.2"/>
<line x1="123.75" y1="883.4" x2="123.75" y2="855.9" stroke="#ff8585" stroke-width="1.2"/>
<line x1="124.5" y1="883.4" x2="124.5" y2="870" stroke="#ff8585" stroke-width="1.2"/>
<line x1="126.4" y1="883.4" x2="126.4" y2="836.9" stroke="#ff8585" stroke-width="1.2"/>
<line x1="129.2" y1="883.4" x2="129.2" y2="737.7" stroke="#ff8585" stroke-width="1.2"/>
<line x1="130.3" y1="883.4" x2="130.3" y2="871.25" stroke="#ff8585" stroke-width="1.2"/>
<line x1="139.4" y1="883.4" x2="139.4" y2="876" stroke="#ff8585" stroke-width="1.2"/>
<line x1="142.5" y1="883.4" x2="142.5" y2="865" stroke="#ff8585" stroke-width="1.2"/>
<line x1="145.3" y1="883.4" x2="145.3" y2="841.6" stroke="#ff8585" stroke-width="1.2"/>
<line x1="147.8" y1="883.4" x2="147.8" y2="856.7" stroke="#ff8585" stroke-width="1.2"/>
<line x1="162.8" y1="883.4" x2="162.8" y2="871.25" stroke="#ff8585" stroke-width="1.2"/>
<line x1="167" y1="883.4" x2="167" y2="874.4" stroke="#ff8585" stroke-width="1.2"/>
<line x1="180.3" y1="883.4" x2="180.3" y2="875.5" stroke="#ff8585" stroke-width="1.2"/>
<line x1="182.7" y1="883.4" x2="182.7" y2="875.5" stroke="#ff8585" stroke-width="1.2"/>
<line x1="185.8" y1="883.4" x2="185.8" y2="866" stroke="#ff8585" stroke-width="1.2"/>
<line x1="199.5" y1="883.4" x2="199.5" y2="877.8" stroke="#ff8585" stroke-width="1.2"/>
<line x1="205" y1="883.4" x2="205" y2="830.9" stroke="#ff8585" stroke-width="1.2"/>
<line x1="223.75" y1="883.4" x2="223.75" y2="871.9" stroke="#ff8585" stroke-width="1.2"/>
<line x1="242.2" y1="883.4" x2="242.2" y2="865" stroke="#ff8585" stroke-width="1.2"/>
<line x1="261.7" y1="883.4" x2="261.7" y2="867.2" stroke="#ff8585" stroke-width="1.2"/>
<line x1="280.5" y1="883.4" x2="280.5" y2="865.3" stroke="#ff8585" stroke-width="1.2"/>
<line x1="292.5" y1="883.4" x2="292.5" y2="878" stroke="#ff8585" stroke-width="1.2"/>
<line x1="299.5" y1="883.4" x2="299.5" y2="875.5" stroke="#ff8585" stroke-width="1.2"/>
<line x1="318.75" y1="883.4" x2="318.75" y2="862.2" stroke="#ff8585" stroke-width="1.2"/>
<line x1="337.5" y1="883.4" x2="337.5" y2="876.6" stroke="#ff8585" stroke-width="1.2"/>
<line x1="376.7" y1="883.4" x2="376.7" y2="863" stroke="#ff8585" stroke-width="1.2"/>
<line x1="155" y1="883.4" x2="155" y2="879" stroke="#ff8585" stroke-width="1.2"/>
<line x1="165" y1="883.4" x2="165" y2="879.5" stroke="#ff8585" stroke-width="1.2"/>
<line x1="176" y1="883.4" x2="176" y2="879" stroke="#ff8585" stroke-width="1.2"/>
<line x1="196" y1="883.4" x2="196" y2="879.5" stroke="#ff8585" stroke-width="1.2"/>
<line x1="218" y1="883.4" x2="218" y2="879.5" stroke="#ff8585" stroke-width="1.2"/>
<line x1="295" y1="883.4" x2="295" y2="879" stroke="#ff8585" stroke-width="1.2"/>
<line x1="101.4" y1="883.4" x2="101.4" y2="889.5" stroke="#8888ff" stroke-width="1.2"/>
<line x1="103.4" y1="883.4" x2="103.4" y2="893.4" stroke="#8888ff" stroke-width="1.2"/>
<line x1="104.5" y1="883.4" x2="104.5" y2="973.1" stroke="#8888ff" stroke-width="1.2"/>
<line x1="105.6" y1="883.4" x2="105.6" y2="905.2" stroke="#8888ff" stroke-width="1.2"/>
<line x1="107.3" y1="883.4" x2="107.3" y2="977" stroke="#8888ff" stroke-width="1.2"/>
<line x1="109.2" y1="883.4" x2="109.2" y2="890.3" stroke="#8888ff" stroke-width="1.2"/>
<line x1="111.9" y1="883.4" x2="111.9" y2="1006.7" stroke="#8888ff" stroke-width="1.2"/>
<line x1="112.3" y1="883.4" x2="112.3" y2="915.3" stroke="#8888ff" stroke-width="1.2"/>
<line x1="121" y1="883.4" x2="121" y2="890.3" stroke="#8888ff" stroke-width="1.2"/>
<line x1="123.75" y1="883.4" x2="123.75" y2="929" stroke="#8888ff" stroke-width="1.2"/>
<line x1="125.3" y1="883.4" x2="125.3" y2="901.25" stroke="#8888ff" stroke-width="1.2"/>
<line x1="126.7" y1="883.4" x2="126.7" y2="925.5" stroke="#8888ff" stroke-width="1.2"/>
<line x1="129.2" y1="883.4" x2="129.2" y2="1016.9" stroke="#8888ff" stroke-width="1.2"/>
<line x1="130.3" y1="883.4" x2="130.3" y2="894.2" stroke="#8888ff" stroke-width="1.2"/>
<line x1="139.7" y1="883.4" x2="139.7" y2="888.75" stroke="#8888ff" stroke-width="1.2"/>
<line x1="142.3" y1="883.4" x2="142.3" y2="909.8" stroke="#8888ff" stroke-width="1.2"/>
<line x1="144.4" y1="883.4" x2="144.4" y2="901.25" stroke="#8888ff" stroke-width="1.2"/>
<line x1="145.5" y1="883.4" x2="145.5" y2="906" stroke="#8888ff" stroke-width="1.2"/>
<line x1="147.8" y1="883.4" x2="147.8" y2="900.5" stroke="#8888ff" stroke-width="1.2"/>
<line x1="160" y1="883.4" x2="160" y2="890.3" stroke="#8888ff" stroke-width="1.2"/>
<line x1="161.6" y1="883.4" x2="161.6" y2="901.25" stroke="#8888ff" stroke-width="1.2"/>
<line x1="163.1" y1="883.4" x2="163.1" y2="895" stroke="#8888ff" stroke-width="1.2"/>
<line x1="167" y1="883.4" x2="167" y2="891.9" stroke="#8888ff" stroke-width="1.2"/>
<line x1="180.3" y1="883.4" x2="180.3" y2="890.3" stroke="#8888ff" stroke-width="1.2"/>
<line x1="182.7" y1="883.4" x2="182.7" y2="887.2" stroke="#8888ff" stroke-width="1.2"/>
<line x1="185.8" y1="883.4" x2="185.8" y2="895" stroke="#8888ff" stroke-width="1.2"/>
<line x1="205" y1="883.4" x2="205" y2="914.5" stroke="#8888ff" stroke-width="1.2"/>
<line x1="242.2" y1="883.4" x2="242.2" y2="890.3" stroke="#8888ff" stroke-width="1.2"/>
<line x1="261.7" y1="883.4" x2="261.7" y2="889.5" stroke="#8888ff" stroke-width="1.2"/>
<line x1="280.5" y1="883.4" x2="280.5" y2="888.75" stroke="#8888ff" stroke-width="1.2"/>
<line x1="318.75" y1="883.4" x2="318.75" y2="896.6" stroke="#8888ff" stroke-width="1.2"/>
<line x1="376.7" y1="883.4" x2="376.7" y2="906.3" stroke="#8888ff" stroke-width="1.2"/>
<line x1="155" y1="883.4" x2="155" y2="887" stroke="#8888ff" stroke-width="1.2"/>
<line x1="176" y1="883.4" x2="176" y2="887" stroke="#8888ff" stroke-width="1.2"/>
<line x1="76.4" y1="883.4" x2="521.5" y2="883.4" stroke="#7a7a7a" stroke-width="1.6"/>
<line x1="101.4" y1="882.5" x2="519.5" y2="882.5" stroke="#ff7070" stroke-width="1" stroke-dasharray="1.5 4.5"/>
<line x1="100.4" y1="884.3" x2="519.5" y2="884.3" stroke="#7070ff" stroke-width="1" stroke-dasharray="1.5 5.5"/>
<text x="129.2" y="735.2" font-size="13.2" text-anchor="middle" font-weight="normal" fill="#ff0000" stroke="#ff0000" stroke-width="0.22">73</text>
<text x="107.2" y="788" font-size="13.2" text-anchor="middle" font-weight="normal" fill="#ff0000" stroke="#ff0000" stroke-width="0.22">57</text>
<text x="145.3" y="838.75" font-size="13.2" text-anchor="middle" font-weight="normal" fill="#ff0000" stroke="#ff0000" stroke-width="0.22">85</text>
<text x="162.9" y="868.75" font-size="13.2" text-anchor="middle" font-weight="normal" fill="#ff0000" stroke="#ff0000" stroke-width="0.22">98</text>
<text x="185.9" y="863.4" font-size="13.2" text-anchor="middle" font-weight="normal" fill="#ff0000" stroke="#ff0000" stroke-width="0.22">115</text>
<text x="205" y="828.3" font-size="13.2" text-anchor="middle" font-weight="normal" fill="#ff0000" stroke="#ff0000" stroke-width="0.22">129</text>
<text x="242.2" y="861.9" font-size="13.2" text-anchor="middle" font-weight="normal" fill="#ff0000" stroke="#ff0000" stroke-width="0.22">157</text>
<text x="280.3" y="862.5" font-size="13.2" text-anchor="middle" font-weight="normal" fill="#ff0000" stroke="#ff0000" stroke-width="0.22">185</text>
<text x="318.2" y="858.75" font-size="13.2" text-anchor="middle" font-weight="normal" fill="#ff0000" stroke="#ff0000" stroke-width="0.22">213</text>
<text x="376.7" y="859.9" font-size="13.2" text-anchor="middle" font-weight="normal" fill="#ff0000" stroke="#ff0000" stroke-width="0.22">256</text>
<text x="406" y="880.3" font-size="13.2" text-anchor="middle" font-weight="normal" fill="#ff0000" stroke="#ff0000" stroke-width="0.22">278</text>
<text x="431.6" y="880.3" font-size="13.2" text-anchor="middle" font-weight="normal" fill="#ff0000" stroke="#ff0000" stroke-width="0.22">297</text>
<text x="473.5" y="880.3" font-size="13.2" text-anchor="middle" font-weight="normal" fill="#ff0000" stroke="#ff0000" stroke-width="0.22">328</text>
<text x="499.3" y="880.3" font-size="13.2" text-anchor="middle" font-weight="normal" fill="#ff0000" stroke="#ff0000" stroke-width="0.22">347</text>
<text x="142.4" y="923.9" font-size="13.2" text-anchor="middle" font-weight="normal" fill="#0000ff" stroke="#0000ff" stroke-width="0.22">83</text>
<text x="160.8" y="916" font-size="13.2" text-anchor="middle" font-weight="normal" fill="#0000ff" stroke="#0000ff" stroke-width="0.22">97</text>
<text x="186.1" y="909.8" font-size="13.2" text-anchor="middle" font-weight="normal" fill="#0000ff" stroke="#0000ff" stroke-width="0.22">115</text>
<text x="205.1" y="929" font-size="13.2" text-anchor="middle" font-weight="normal" fill="#0000ff" stroke="#0000ff" stroke-width="0.22">129</text>
<text x="242.2" y="904.4" font-size="13.2" text-anchor="middle" font-weight="normal" fill="#0000ff" stroke="#0000ff" stroke-width="0.22">157</text>
<text x="280.3" y="902.8" font-size="13.2" text-anchor="middle" font-weight="normal" fill="#0000ff" stroke="#0000ff" stroke-width="0.22">185</text>
<text x="318.2" y="911.4" font-size="13.2" text-anchor="middle" font-weight="normal" fill="#0000ff" stroke="#0000ff" stroke-width="0.22">213</text>
<text x="376.7" y="921.7" font-size="13.2" text-anchor="middle" font-weight="normal" fill="#0000ff" stroke="#0000ff" stroke-width="0.22">256</text>
<text x="111.5" y="1020.8" font-size="13.2" text-anchor="middle" font-weight="normal" fill="#0000ff" stroke="#0000ff" stroke-width="0.22">60</text>
<text x="129.5" y="1031" font-size="13.2" text-anchor="middle" font-weight="normal" fill="#0000ff" stroke="#0000ff" stroke-width="0.22">73</text>
<text x="187.0" y="735.75" font-size="15.5" text-anchor="start" font-weight="normal" fill="#000" stroke="#000" stroke-width="0.3" textLength="148" lengthAdjust="spacingAndGlyphs">Peak 1 (27.99 min),</text>
<text x="187.0" y="754.5" font-size="15.5" text-anchor="start" font-weight="normal" fill="#000" stroke="#000" stroke-width="0.3" textLength="231.5" lengthAdjust="spacingAndGlyphs">n-Hexadecanoic (palmitic) acid</text>
<text x="491.6" y="899.4" font-size="16.5" text-anchor="start" font-weight="normal" fill="#000" stroke="#000" stroke-width="0.3" textLength="28" lengthAdjust="spacingAndGlyphs">m/z</text>
<line x1="596.7" y1="726.25" x2="596.7" y2="1041" stroke="#555555" stroke-width="1.2"/>
<line x1="590.7" y1="745.0" x2="596.7" y2="745.0" stroke="#555555" stroke-width="1.1"/>
<text x="590.1" y="749.8" font-size="13" text-anchor="end" font-weight="normal" fill="#111" stroke="#111" stroke-width="0.3">100</text>
<line x1="593.5" y1="781.0" x2="596.7" y2="781.0" stroke="#555555" stroke-width="1.1"/>
<line x1="590.7" y1="817.0" x2="596.7" y2="817.0" stroke="#555555" stroke-width="1.1"/>
<text x="590.1" y="821.8" font-size="13" text-anchor="end" font-weight="normal" fill="#111" stroke="#111" stroke-width="0.3">50</text>
<line x1="593.5" y1="852.9" x2="596.7" y2="852.9" stroke="#555555" stroke-width="1.1"/>
<line x1="590.7" y1="888.9" x2="596.7" y2="888.9" stroke="#555555" stroke-width="1.1"/>
<text x="590.1" y="893.7" font-size="13" text-anchor="end" font-weight="normal" fill="#111" stroke="#111" stroke-width="0.3">0</text>
<line x1="593.5" y1="924.6" x2="596.7" y2="924.6" stroke="#555555" stroke-width="1.1"/>
<line x1="590.7" y1="960.4" x2="596.7" y2="960.4" stroke="#555555" stroke-width="1.1"/>
<text x="590.1" y="965.2" font-size="13" text-anchor="end" font-weight="normal" fill="#111" stroke="#111" stroke-width="0.3">50</text>
<line x1="593.5" y1="996.2" x2="596.7" y2="996.2" stroke="#555555" stroke-width="1.1"/>
<line x1="590.7" y1="1031.9" x2="596.7" y2="1031.9" stroke="#555555" stroke-width="1.1"/>
<text x="590.1" y="1036.7" font-size="13" text-anchor="end" font-weight="normal" fill="#111" stroke="#111" stroke-width="0.3">100</text>
<line x1="621.7" y1="888.9" x2="621.7" y2="879.4" stroke="#ff8585" stroke-width="1.2"/>
<line x1="624.4" y1="888.9" x2="624.4" y2="776.6" stroke="#ff8585" stroke-width="1.2"/>
<line x1="625.6" y1="888.9" x2="625.6" y2="785.6" stroke="#ff8585" stroke-width="1.2"/>
<line x1="626.9" y1="888.9" x2="626.9" y2="813" stroke="#ff8585" stroke-width="1.2"/>
<line x1="628.75" y1="888.9" x2="628.75" y2="884.4" stroke="#ff8585" stroke-width="1.2"/>
<line x1="631.6" y1="888.9" x2="631.6" y2="875" stroke="#ff8585" stroke-width="1.2"/>
<line x1="638.6" y1="888.9" x2="638.6" y2="884.4" stroke="#ff8585" stroke-width="1.2"/>
<line x1="640.8" y1="888.9" x2="640.8" y2="857.5" stroke="#ff8585" stroke-width="1.2"/>
<line x1="643.6" y1="888.9" x2="643.6" y2="806.25" stroke="#ff8585" stroke-width="1.2"/>
<line x1="646.4" y1="888.9" x2="646.4" y2="873.9" stroke="#ff8585" stroke-width="1.2"/>
<line x1="649.5" y1="888.9" x2="649.5" y2="865" stroke="#ff8585" stroke-width="1.2"/>
<line x1="657.7" y1="888.9" x2="657.7" y2="879.7" stroke="#ff8585" stroke-width="1.2"/>
<line x1="660.3" y1="888.9" x2="660.3" y2="859.5" stroke="#ff8585" stroke-width="1.2"/>
<line x1="661.6" y1="888.9" x2="661.6" y2="785.9" stroke="#ff8585" stroke-width="1.2"/>
<line x1="663.1" y1="888.9" x2="663.1" y2="744.7" stroke="#ff8585" stroke-width="1.2"/>
<line x1="664.4" y1="888.9" x2="664.4" y2="825" stroke="#ff8585" stroke-width="1.2"/>
<line x1="666.25" y1="888.9" x2="666.25" y2="853.6" stroke="#ff8585" stroke-width="1.2"/>
<line x1="669" y1="888.9" x2="669" y2="880.6" stroke="#ff8585" stroke-width="1.2"/>
<line x1="675.6" y1="888.9" x2="675.6" y2="884" stroke="#ff8585" stroke-width="1.2"/>
<line x1="678.4" y1="888.9" x2="678.4" y2="868.1" stroke="#ff8585" stroke-width="1.2"/>
<line x1="681.1" y1="888.9" x2="681.1" y2="807.5" stroke="#ff8585" stroke-width="1.2"/>
<line x1="683" y1="888.9" x2="683" y2="796.9" stroke="#ff8585" stroke-width="1.2"/>
<line x1="684.2" y1="888.9" x2="684.2" y2="849.7" stroke="#ff8585" stroke-width="1.2"/>
<line x1="685.5" y1="888.9" x2="685.5" y2="876.6" stroke="#ff8585" stroke-width="1.2"/>
<line x1="688.1" y1="888.9" x2="688.1" y2="875" stroke="#ff8585" stroke-width="1.2"/>
<line x1="699" y1="888.9" x2="699" y2="873.4" stroke="#ff8585" stroke-width="1.2"/>
<line x1="702.2" y1="888.9" x2="702.2" y2="863.4" stroke="#ff8585" stroke-width="1.2"/>
<line x1="705" y1="888.9" x2="705" y2="871.25" stroke="#ff8585" stroke-width="1.2"/>
<line x1="706.1" y1="888.9" x2="706.1" y2="877.8" stroke="#ff8585" stroke-width="1.2"/>
<line x1="708.4" y1="888.9" x2="708.4" y2="884" stroke="#ff8585" stroke-width="1.2"/>
<line x1="713.1" y1="888.9" x2="713.1" y2="884" stroke="#ff8585" stroke-width="1.2"/>
<line x1="719" y1="888.9" x2="719" y2="870" stroke="#ff8585" stroke-width="1.2"/>
<line x1="720.2" y1="888.9" x2="720.2" y2="871.9" stroke="#ff8585" stroke-width="1.2"/>
<line x1="721.4" y1="888.9" x2="721.4" y2="874.5" stroke="#ff8585" stroke-width="1.2"/>
<line x1="722.9" y1="888.9" x2="722.9" y2="879.8" stroke="#ff8585" stroke-width="1.2"/>
<line x1="724.6" y1="888.9" x2="724.6" y2="879.8" stroke="#ff8585" stroke-width="1.2"/>
<line x1="733" y1="888.9" x2="733" y2="881.9" stroke="#ff8585" stroke-width="1.2"/>
<line x1="736" y1="888.9" x2="736" y2="881.2" stroke="#ff8585" stroke-width="1.2"/>
<line x1="739" y1="888.9" x2="739" y2="878" stroke="#ff8585" stroke-width="1.2"/>
<line x1="742.2" y1="888.9" x2="742.2" y2="885" stroke="#ff8585" stroke-width="1.2"/>
<line x1="752.7" y1="888.9" x2="752.7" y2="883.3" stroke="#ff8585" stroke-width="1.2"/>
<line x1="757.1" y1="888.9" x2="757.1" y2="880.6" stroke="#ff8585" stroke-width="1.2"/>
<line x1="759.8" y1="888.9" x2="759.8" y2="881.5" stroke="#ff8585" stroke-width="1.2"/>
<line x1="763.3" y1="888.9" x2="763.3" y2="883.3" stroke="#ff8585" stroke-width="1.2"/>
<line x1="766.4" y1="888.9" x2="766.4" y2="885" stroke="#ff8585" stroke-width="1.2"/>
<line x1="780" y1="888.9" x2="780" y2="883.3" stroke="#ff8585" stroke-width="1.2"/>
<line x1="790" y1="888.9" x2="790" y2="850.2" stroke="#ff8585" stroke-width="1.2"/>
<line x1="791" y1="888.9" x2="791" y2="878.9" stroke="#ff8585" stroke-width="1.2"/>
<line x1="799.8" y1="888.9" x2="799.8" y2="881.9" stroke="#ff8585" stroke-width="1.2"/>
<line x1="853.8" y1="888.9" x2="853.8" y2="883.8" stroke="#ff8585" stroke-width="1.2"/>
<line x1="855.6" y1="888.9" x2="855.6" y2="883.8" stroke="#ff8585" stroke-width="1.2"/>
<line x1="914.8" y1="888.9" x2="914.8" y2="869.6" stroke="#ff8585" stroke-width="1.2"/>
<line x1="940" y1="888.9" x2="940" y2="884" stroke="#ff8585" stroke-width="1.2"/>
<line x1="745" y1="888.9" x2="745" y2="885" stroke="#ff8585" stroke-width="1.2"/>
<line x1="621.25" y1="888.9" x2="621.25" y2="905" stroke="#8888ff" stroke-width="1.2"/>
<line x1="622.5" y1="888.9" x2="622.5" y2="925.3" stroke="#8888ff" stroke-width="1.2"/>
<line x1="623.3" y1="888.9" x2="623.3" y2="925.3" stroke="#8888ff" stroke-width="1.2"/>
<line x1="624.5" y1="888.9" x2="624.5" y2="1008.4" stroke="#8888ff" stroke-width="1.2"/>
<line x1="625.6" y1="888.9" x2="625.6" y2="925.3" stroke="#8888ff" stroke-width="1.2"/>
<line x1="626.9" y1="888.9" x2="626.9" y2="923" stroke="#8888ff" stroke-width="1.2"/>
<line x1="628.75" y1="888.9" x2="628.75" y2="894" stroke="#8888ff" stroke-width="1.2"/>
<line x1="631.6" y1="888.9" x2="631.6" y2="912" stroke="#8888ff" stroke-width="1.2"/>
<line x1="640.8" y1="888.9" x2="640.8" y2="925.6" stroke="#8888ff" stroke-width="1.2"/>
<line x1="642.3" y1="888.9" x2="642.3" y2="912.8" stroke="#8888ff" stroke-width="1.2"/>
<line x1="643.6" y1="888.9" x2="643.6" y2="950.6" stroke="#8888ff" stroke-width="1.2"/>
<line x1="645.2" y1="888.9" x2="645.2" y2="912" stroke="#8888ff" stroke-width="1.2"/>
<line x1="649.5" y1="888.9" x2="649.5" y2="904.2" stroke="#8888ff" stroke-width="1.2"/>
<line x1="655.3" y1="888.9" x2="655.3" y2="892.5" stroke="#8888ff" stroke-width="1.2"/>
<line x1="657.7" y1="888.9" x2="657.7" y2="898.75" stroke="#8888ff" stroke-width="1.2"/>
<line x1="660.3" y1="888.9" x2="660.3" y2="913.6" stroke="#8888ff" stroke-width="1.2"/>
<line x1="661.9" y1="888.9" x2="661.9" y2="911.25" stroke="#8888ff" stroke-width="1.2"/>
<line x1="663.4" y1="888.9" x2="663.4" y2="932.8" stroke="#8888ff" stroke-width="1.2"/>
<line x1="664.4" y1="888.9" x2="664.4" y2="912" stroke="#8888ff" stroke-width="1.2"/>
<line x1="666.25" y1="888.9" x2="666.25" y2="894.8" stroke="#8888ff" stroke-width="1.2"/>
<line x1="669" y1="888.9" x2="669" y2="892.5" stroke="#8888ff" stroke-width="1.2"/>
<line x1="680.3" y1="888.9" x2="680.3" y2="903.4" stroke="#8888ff" stroke-width="1.2"/>
<line x1="681.9" y1="888.9" x2="681.9" y2="908.9" stroke="#8888ff" stroke-width="1.2"/>
<line x1="683.4" y1="888.9" x2="683.4" y2="920.3" stroke="#8888ff" stroke-width="1.2"/>
<line x1="684.7" y1="888.9" x2="684.7" y2="907.3" stroke="#8888ff" stroke-width="1.2"/>
<line x1="688.1" y1="888.9" x2="688.1" y2="892.5" stroke="#8888ff" stroke-width="1.2"/>
<line x1="697.5" y1="888.9" x2="697.5" y2="893.3" stroke="#8888ff" stroke-width="1.2"/>
<line x1="699.8" y1="888.9" x2="699.8" y2="897.2" stroke="#8888ff" stroke-width="1.2"/>
<line x1="702.2" y1="888.9" x2="702.2" y2="902.2" stroke="#8888ff" stroke-width="1.2"/>
<line x1="719" y1="888.9" x2="719" y2="895.6" stroke="#8888ff" stroke-width="1.2"/>
<line x1="739" y1="888.9" x2="739" y2="893" stroke="#8888ff" stroke-width="1.2"/>
<line x1="914.8" y1="888.9" x2="914.8" y2="896.9" stroke="#8888ff" stroke-width="1.2"/>
<line x1="704" y1="888.9" x2="704" y2="895" stroke="#8888ff" stroke-width="1.2"/>
<line x1="706" y1="888.9" x2="706" y2="894" stroke="#8888ff" stroke-width="1.2"/>
<line x1="709" y1="888.9" x2="709" y2="893" stroke="#8888ff" stroke-width="1.2"/>
<line x1="718" y1="888.9" x2="718" y2="893" stroke="#8888ff" stroke-width="1.2"/>
<line x1="721" y1="888.9" x2="721" y2="894" stroke="#8888ff" stroke-width="1.2"/>
<line x1="724" y1="888.9" x2="724" y2="893" stroke="#8888ff" stroke-width="1.2"/>
<line x1="596.7" y1="888.9" x2="987.3" y2="888.9" stroke="#7a7a7a" stroke-width="1.6"/>
<line x1="621.7" y1="888.0" x2="985.3" y2="888.0" stroke="#ff7070" stroke-width="1" stroke-dasharray="1.5 4.5"/>
<line x1="620.7" y1="889.8" x2="985.3" y2="889.8" stroke="#7070ff" stroke-width="1" stroke-dasharray="1.5 5.5"/>
<text x="624.5" y="773.4" font-size="13.2" text-anchor="middle" font-weight="normal" fill="#ff0000" stroke="#ff0000" stroke-width="0.22">55</text>
<text x="643.4" y="802.8" font-size="13.2" text-anchor="middle" font-weight="normal" fill="#ff0000" stroke="#ff0000" stroke-width="0.22">69</text>
<text x="663.1" y="741.6" font-size="13.2" text-anchor="middle" font-weight="normal" fill="#ff0000" stroke="#ff0000" stroke-width="0.22">83</text>
<text x="682.7" y="793.75" font-size="13.2" text-anchor="middle" font-weight="normal" fill="#ff0000" stroke="#ff0000" stroke-width="0.22">97</text>
<text x="701.6" y="861.4" font-size="13.2" text-anchor="middle" font-weight="normal" fill="#ff0000" stroke="#ff0000" stroke-width="0.22">111</text>
<text x="738.5" y="875.4" font-size="13.2" text-anchor="middle" font-weight="normal" fill="#ff0000" stroke="#ff0000" stroke-width="0.22">137</text>
<text x="789.9" y="847.6" font-size="13.2" text-anchor="middle" font-weight="normal" fill="#ff0000" stroke="#ff0000" stroke-width="0.22">174</text>
<text x="817.5" y="882.4" font-size="13.2" text-anchor="middle" font-weight="normal" fill="#ff0000" stroke="#ff0000" stroke-width="0.22">194</text>
<text x="853" y="881.2" font-size="13.2" text-anchor="middle" font-weight="normal" fill="#ff0000" stroke="#ff0000" stroke-width="0.22">220</text>
<text x="914" y="866.4" font-size="13.2" text-anchor="middle" font-weight="normal" fill="#ff0000" stroke="#ff0000" stroke-width="0.22">264</text>
<text x="939.7" y="880.9" font-size="13.2" text-anchor="middle" font-weight="normal" fill="#ff0000" stroke="#ff0000" stroke-width="0.22">282</text>
<text x="624.5" y="1023" font-size="13.2" text-anchor="middle" font-weight="normal" fill="#0000ff" stroke="#0000ff" stroke-width="0.22">55</text>
<text x="643.3" y="965" font-size="13.2" text-anchor="middle" font-weight="normal" fill="#0000ff" stroke="#0000ff" stroke-width="0.22">69</text>
<text x="663.2" y="947.5" font-size="13.2" text-anchor="middle" font-weight="normal" fill="#0000ff" stroke="#0000ff" stroke-width="0.22">83</text>
<text x="682.7" y="935.5" font-size="13.2" text-anchor="middle" font-weight="normal" fill="#0000ff" stroke="#0000ff" stroke-width="0.22">97</text>
<text x="701.8" y="917" font-size="13.2" text-anchor="middle" font-weight="normal" fill="#0000ff" stroke="#0000ff" stroke-width="0.22">111</text>
<text x="738.5" y="908.4" font-size="13.2" text-anchor="middle" font-weight="normal" fill="#0000ff" stroke="#0000ff" stroke-width="0.22">137</text>
<text x="779" y="906.7" font-size="13.2" text-anchor="middle" font-weight="normal" fill="#0000ff" stroke="#0000ff" stroke-width="0.22">166</text>
<text x="816.6" y="904.7" font-size="13.2" text-anchor="middle" font-weight="normal" fill="#0000ff" stroke="#0000ff" stroke-width="0.22">193</text>
<text x="853" y="906.7" font-size="13.2" text-anchor="middle" font-weight="normal" fill="#0000ff" stroke="#0000ff" stroke-width="0.22">220</text>
<text x="889.6" y="903.6" font-size="13.2" text-anchor="middle" font-weight="normal" fill="#0000ff" stroke="#0000ff" stroke-width="0.22">246</text>
<text x="914" y="911.3" font-size="13.2" text-anchor="middle" font-weight="normal" fill="#0000ff" stroke="#0000ff" stroke-width="0.22">264</text>
<text x="939.7" y="904.6" font-size="13.2" text-anchor="middle" font-weight="normal" fill="#0000ff" stroke="#0000ff" stroke-width="0.22">282</text>
<text x="699.0" y="740.9" font-size="15.5" text-anchor="start" font-weight="normal" fill="#000" stroke="#000" stroke-width="0.3" textLength="148" lengthAdjust="spacingAndGlyphs">Peak 2 (28.91 min),</text>
<text x="699.0" y="759.6" font-size="15.5" text-anchor="start" font-weight="normal" fill="#000" stroke="#000" stroke-width="0.3" textLength="190" lengthAdjust="spacingAndGlyphs">Octadecanoic (oleic) acid</text>
<text x="963.6" y="905.2" font-size="16.5" text-anchor="start" font-weight="normal" fill="#000" stroke="#000" stroke-width="0.3" textLength="28" lengthAdjust="spacingAndGlyphs">m/z</text>
<text x="970.8" y="884.9" font-size="13.2" text-anchor="start" font-weight="normal" fill="#ff0000" stroke="#ff0000" stroke-width="0.22">31</text>
<line x1="344.4" y1="1089.4" x2="344.4" y2="1404" stroke="#555555" stroke-width="1.2"/>
<line x1="338.4" y1="1108.4" x2="344.4" y2="1108.4" stroke="#555555" stroke-width="1.1"/>
<text x="337.79999999999995" y="1113.2" font-size="13" text-anchor="end" font-weight="normal" fill="#111" stroke="#111" stroke-width="0.3">100</text>
<line x1="341.2" y1="1144.4" x2="344.4" y2="1144.4" stroke="#555555" stroke-width="1.1"/>
<line x1="338.4" y1="1180.4" x2="344.4" y2="1180.4" stroke="#555555" stroke-width="1.1"/>
<text x="337.79999999999995" y="1185.2" font-size="13" text-anchor="end" font-weight="normal" fill="#111" stroke="#111" stroke-width="0.3">50</text>
<line x1="341.2" y1="1216.4" x2="344.4" y2="1216.4" stroke="#555555" stroke-width="1.1"/>
<line x1="338.4" y1="1252.4" x2="344.4" y2="1252.4" stroke="#555555" stroke-width="1.1"/>
<text x="337.79999999999995" y="1257.2" font-size="13" text-anchor="end" font-weight="normal" fill="#111" stroke="#111" stroke-width="0.3">0</text>
<line x1="341.2" y1="1288.4" x2="344.4" y2="1288.4" stroke="#555555" stroke-width="1.1"/>
<line x1="338.4" y1="1324.3" x2="344.4" y2="1324.3" stroke="#555555" stroke-width="1.1"/>
<text x="337.79999999999995" y="1329.1" font-size="13" text-anchor="end" font-weight="normal" fill="#111" stroke="#111" stroke-width="0.3">50</text>
<line x1="341.2" y1="1360.3" x2="344.4" y2="1360.3" stroke="#555555" stroke-width="1.1"/>
<line x1="338.4" y1="1396.2" x2="344.4" y2="1396.2" stroke="#555555" stroke-width="1.1"/>
<text x="337.79999999999995" y="1401.0" font-size="13" text-anchor="end" font-weight="normal" fill="#111" stroke="#111" stroke-width="0.3">100</text>
<line x1="372.5" y1="1252.4" x2="372.5" y2="1130.3" stroke="#ff8585" stroke-width="1.2"/>
<line x1="375.3" y1="1252.4" x2="375.3" y2="1133.4" stroke="#ff8585" stroke-width="1.2"/>
<line x1="376.4" y1="1252.4" x2="376.4" y2="1243.3" stroke="#ff8585" stroke-width="1.2"/>
<line x1="379.5" y1="1252.4" x2="379.5" y2="1167.8" stroke="#ff8585" stroke-width="1.2"/>
<line x1="381.1" y1="1252.4" x2="381.1" y2="1190.6" stroke="#ff8585" stroke-width="1.2"/>
<line x1="389.4" y1="1252.4" x2="389.4" y2="1244.8" stroke="#ff8585" stroke-width="1.2"/>
<line x1="390.5" y1="1252.4" x2="390.5" y2="1242.8" stroke="#ff8585" stroke-width="1.2"/>
<line x1="392.5" y1="1252.4" x2="392.5" y2="1188.6" stroke="#ff8585" stroke-width="1.2"/>
<line x1="395.2" y1="1252.4" x2="395.2" y2="1141.25" stroke="#ff8585" stroke-width="1.2"/>
<line x1="398" y1="1252.4" x2="398" y2="1107.7" stroke="#ff8585" stroke-width="1.2"/>
<line x1="399.4" y1="1252.4" x2="399.4" y2="1235.5" stroke="#ff8585" stroke-width="1.2"/>
<line x1="409.2" y1="1252.4" x2="409.2" y2="1244" stroke="#ff8585" stroke-width="1.2"/>
<line x1="410.8" y1="1252.4" x2="410.8" y2="1229.2" stroke="#ff8585" stroke-width="1.2"/>
<line x1="412.3" y1="1252.4" x2="412.3" y2="1194" stroke="#ff8585" stroke-width="1.2"/>
<line x1="415" y1="1252.4" x2="415" y2="1196" stroke="#ff8585" stroke-width="1.2"/>
<line x1="417.8" y1="1252.4" x2="417.8" y2="1230" stroke="#ff8585" stroke-width="1.2"/>
<line x1="431.9" y1="1252.4" x2="431.9" y2="1225" stroke="#ff8585" stroke-width="1.2"/>
<line x1="434.2" y1="1252.4" x2="434.2" y2="1231.9" stroke="#ff8585" stroke-width="1.2"/>
<line x1="435" y1="1252.4" x2="435" y2="1235.5" stroke="#ff8585" stroke-width="1.2"/>
<line x1="437.7" y1="1252.4" x2="437.7" y2="1238.1" stroke="#ff8585" stroke-width="1.2"/>
<line x1="439.2" y1="1252.4" x2="439.2" y2="1243.3" stroke="#ff8585" stroke-width="1.2"/>
<line x1="451.4" y1="1252.4" x2="451.4" y2="1242.8" stroke="#ff8585" stroke-width="1.2"/>
<line x1="454.2" y1="1252.4" x2="454.2" y2="1243.3" stroke="#ff8585" stroke-width="1.2"/>
<line x1="457.2" y1="1252.4" x2="457.2" y2="1228.1" stroke="#ff8585" stroke-width="1.2"/>
<line x1="460" y1="1252.4" x2="460" y2="1248.4" stroke="#ff8585" stroke-width="1.2"/>
<line x1="471.1" y1="1252.4" x2="471.1" y2="1243" stroke="#ff8585" stroke-width="1.2"/>
<line x1="477.3" y1="1252.4" x2="477.3" y2="1183.6" stroke="#ff8585" stroke-width="1.2"/>
<line x1="496.9" y1="1252.4" x2="496.9" y2="1235.2" stroke="#ff8585" stroke-width="1.2"/>
<line x1="517.2" y1="1252.4" x2="517.2" y2="1244.5" stroke="#ff8585" stroke-width="1.2"/>
<line x1="536.7" y1="1252.4" x2="536.7" y2="1238.75" stroke="#ff8585" stroke-width="1.2"/>
<line x1="540.9" y1="1252.4" x2="540.9" y2="1229.7" stroke="#ff8585" stroke-width="1.2"/>
<line x1="556.7" y1="1252.4" x2="556.7" y2="1239" stroke="#ff8585" stroke-width="1.2"/>
<line x1="576.6" y1="1252.4" x2="576.6" y2="1238.75" stroke="#ff8585" stroke-width="1.2"/>
<line x1="596.4" y1="1252.4" x2="596.4" y2="1248" stroke="#ff8585" stroke-width="1.2"/>
<line x1="615.8" y1="1252.4" x2="615.8" y2="1246" stroke="#ff8585" stroke-width="1.2"/>
<line x1="635.3" y1="1252.4" x2="635.3" y2="1229.4" stroke="#ff8585" stroke-width="1.2"/>
<line x1="637.2" y1="1252.4" x2="637.2" y2="1230.5" stroke="#ff8585" stroke-width="1.2"/>
<line x1="655.6" y1="1252.4" x2="655.6" y2="1246.6" stroke="#ff8585" stroke-width="1.2"/>
<line x1="696.7" y1="1252.4" x2="696.7" y2="1208.6" stroke="#ff8585" stroke-width="1.2"/>
<line x1="698.3" y1="1252.4" x2="698.3" y2="1238.75" stroke="#ff8585" stroke-width="1.2"/>
<line x1="492" y1="1252.4" x2="492" y2="1248.5" stroke="#ff8585" stroke-width="1.2"/>
<line x1="512" y1="1252.4" x2="512" y2="1248.5" stroke="#ff8585" stroke-width="1.2"/>
<line x1="526" y1="1252.4" x2="526" y2="1248.5" stroke="#ff8585" stroke-width="1.2"/>
<line x1="369.4" y1="1252.4" x2="369.4" y2="1260.3" stroke="#8888ff" stroke-width="1.2"/>
<line x1="370.9" y1="1252.4" x2="370.9" y2="1261.9" stroke="#8888ff" stroke-width="1.2"/>
<line x1="372.5" y1="1252.4" x2="372.5" y2="1373.6" stroke="#8888ff" stroke-width="1.2"/>
<line x1="373.3" y1="1252.4" x2="373.3" y2="1281.4" stroke="#8888ff" stroke-width="1.2"/>
<line x1="375.6" y1="1252.4" x2="375.6" y2="1380.3" stroke="#8888ff" stroke-width="1.2"/>
<line x1="376.9" y1="1252.4" x2="376.9" y2="1259.5" stroke="#8888ff" stroke-width="1.2"/>
<line x1="379.5" y1="1252.4" x2="379.5" y2="1381.4" stroke="#8888ff" stroke-width="1.2"/>
<line x1="381.1" y1="1252.4" x2="381.1" y2="1290.8" stroke="#8888ff" stroke-width="1.2"/>
<line x1="389.4" y1="1252.4" x2="389.4" y2="1265" stroke="#8888ff" stroke-width="1.2"/>
<line x1="390.5" y1="1252.4" x2="390.5" y2="1261.9" stroke="#8888ff" stroke-width="1.2"/>
<line x1="392.5" y1="1252.4" x2="392.5" y2="1315.8" stroke="#8888ff" stroke-width="1.2"/>
<line x1="394" y1="1252.4" x2="394" y2="1270.5" stroke="#8888ff" stroke-width="1.2"/>
<line x1="395.2" y1="1252.4" x2="395.2" y2="1315.3" stroke="#8888ff" stroke-width="1.2"/>
<line x1="398.3" y1="1252.4" x2="398.3" y2="1390" stroke="#8888ff" stroke-width="1.2"/>
<line x1="399.8" y1="1252.4" x2="399.8" y2="1265" stroke="#8888ff" stroke-width="1.2"/>
<line x1="409.2" y1="1252.4" x2="409.2" y2="1262.7" stroke="#8888ff" stroke-width="1.2"/>
<line x1="410.8" y1="1252.4" x2="410.8" y2="1271.25" stroke="#8888ff" stroke-width="1.2"/>
<line x1="412.3" y1="1252.4" x2="412.3" y2="1299" stroke="#8888ff" stroke-width="1.2"/>
<line x1="413.9" y1="1252.4" x2="413.9" y2="1271.25" stroke="#8888ff" stroke-width="1.2"/>
<line x1="415" y1="1252.4" x2="415" y2="1294.4" stroke="#8888ff" stroke-width="1.2"/>
<line x1="417.8" y1="1252.4" x2="417.8" y2="1282.2" stroke="#8888ff" stroke-width="1.2"/>
<line x1="430.3" y1="1252.4" x2="430.3" y2="1261.9" stroke="#8888ff" stroke-width="1.2"/>
<line x1="431.9" y1="1252.4" x2="431.9" y2="1290.8" stroke="#8888ff" stroke-width="1.2"/>
<line x1="434.2" y1="1252.4" x2="434.2" y2="1271.25" stroke="#8888ff" stroke-width="1.2"/>
<line x1="437.8" y1="1252.4" x2="437.8" y2="1265.3" stroke="#8888ff" stroke-width="1.2"/>
<line x1="451.4" y1="1252.4" x2="451.4" y2="1271" stroke="#8888ff" stroke-width="1.2"/>
<line x1="453.75" y1="1252.4" x2="453.75" y2="1260.3" stroke="#8888ff" stroke-width="1.2"/>
<line x1="457.2" y1="1252.4" x2="457.2" y2="1274.4" stroke="#8888ff" stroke-width="1.2"/>
<line x1="459.7" y1="1252.4" x2="459.7" y2="1264.2" stroke="#8888ff" stroke-width="1.2"/>
<line x1="477.3" y1="1252.4" x2="477.3" y2="1324.5" stroke="#8888ff" stroke-width="1.2"/>
<line x1="496.6" y1="1252.4" x2="496.6" y2="1264.8" stroke="#8888ff" stroke-width="1.2"/>
<line x1="536.7" y1="1252.4" x2="536.7" y2="1265.6" stroke="#8888ff" stroke-width="1.2"/>
<line x1="556.7" y1="1252.4" x2="556.7" y2="1282.8" stroke="#8888ff" stroke-width="1.2"/>
<line x1="576.6" y1="1252.4" x2="576.6" y2="1262.5" stroke="#8888ff" stroke-width="1.2"/>
<line x1="596.4" y1="1252.4" x2="596.4" y2="1257" stroke="#8888ff" stroke-width="1.2"/>
<line x1="615.8" y1="1252.4" x2="615.8" y2="1260" stroke="#8888ff" stroke-width="1.2"/>
<line x1="635.3" y1="1252.4" x2="635.3" y2="1276.9" stroke="#8888ff" stroke-width="1.2"/>
<line x1="655.6" y1="1252.4" x2="655.6" y2="1256.6" stroke="#8888ff" stroke-width="1.2"/>
<line x1="696.7" y1="1252.4" x2="696.7" y2="1289.8" stroke="#8888ff" stroke-width="1.2"/>
<line x1="698.3" y1="1252.4" x2="698.3" y2="1261" stroke="#8888ff" stroke-width="1.2"/>
<line x1="471" y1="1252.4" x2="471" y2="1257" stroke="#8888ff" stroke-width="1.2"/>
<line x1="492" y1="1252.4" x2="492" y2="1257" stroke="#8888ff" stroke-width="1.2"/>
<line x1="517" y1="1252.4" x2="517" y2="1257" stroke="#8888ff" stroke-width="1.2"/>
<line x1="344.4" y1="1252.4" x2="736.9" y2="1252.4" stroke="#7a7a7a" stroke-width="1.6"/>
<line x1="369.4" y1="1251.5" x2="734.9" y2="1251.5" stroke="#ff7070" stroke-width="1" stroke-dasharray="1.5 4.5"/>
<line x1="368.4" y1="1253.3000000000002" x2="734.9" y2="1253.3000000000002" stroke="#7070ff" stroke-width="1" stroke-dasharray="1.5 5.5"/>
<text x="372.6" y="1126.9" font-size="13.2" text-anchor="middle" font-weight="normal" fill="#ff0000" stroke="#ff0000" stroke-width="0.22">55</text>
<text x="398.1" y="1105" font-size="13.2" text-anchor="middle" font-weight="normal" fill="#ff0000" stroke="#ff0000" stroke-width="0.22">73</text>
<text x="412.2" y="1191.25" font-size="13.2" text-anchor="middle" font-weight="normal" fill="#ff0000" stroke="#ff0000" stroke-width="0.22">83</text>
<text x="431.8" y="1222.5" font-size="13.2" text-anchor="middle" font-weight="normal" fill="#ff0000" stroke="#ff0000" stroke-width="0.22">97</text>
<text x="457.5" y="1225.6" font-size="13.2" text-anchor="middle" font-weight="normal" fill="#ff0000" stroke="#ff0000" stroke-width="0.22">115</text>
<text x="477.1" y="1180.5" font-size="13.2" text-anchor="middle" font-weight="normal" fill="#ff0000" stroke="#ff0000" stroke-width="0.22">129</text>
<text x="497.1" y="1232.5" font-size="13.2" text-anchor="middle" font-weight="normal" fill="#ff0000" stroke="#ff0000" stroke-width="0.22">143</text>
<text x="541" y="1226.9" font-size="13.2" text-anchor="middle" font-weight="normal" fill="#ff0000" stroke="#ff0000" stroke-width="0.22">174</text>
<text x="576.4" y="1236" font-size="13.2" text-anchor="middle" font-weight="normal" fill="#ff0000" stroke="#ff0000" stroke-width="0.22">199</text>
<text x="634.5" y="1226.25" font-size="13.2" text-anchor="middle" font-weight="normal" fill="#ff0000" stroke="#ff0000" stroke-width="0.22">241</text>
<text x="655.3" y="1243.75" font-size="13.2" text-anchor="middle" font-weight="normal" fill="#ff0000" stroke="#ff0000" stroke-width="0.22">255</text>
<text x="695.9" y="1205.5" font-size="13.2" text-anchor="middle" font-weight="normal" fill="#ff0000" stroke="#ff0000" stroke-width="0.22">284</text>
<text x="716.2" y="1248.75" font-size="13.2" text-anchor="middle" font-weight="normal" fill="#ff0000" stroke="#ff0000" stroke-width="0.22">298</text>
<text x="379.5" y="1395.5" font-size="13.2" text-anchor="middle" font-weight="normal" fill="#0000ff" stroke="#0000ff" stroke-width="0.22">60</text>
<text x="398.1" y="1404" font-size="13.2" text-anchor="middle" font-weight="normal" fill="#0000ff" stroke="#0000ff" stroke-width="0.22">73</text>
<text x="412.2" y="1312.7" font-size="13.2" text-anchor="middle" font-weight="normal" fill="#0000ff" stroke="#0000ff" stroke-width="0.22">83</text>
<text x="431.7" y="1305.3" font-size="13.2" text-anchor="middle" font-weight="normal" fill="#0000ff" stroke="#0000ff" stroke-width="0.22">97</text>
<text x="457.5" y="1289" font-size="13.2" text-anchor="middle" font-weight="normal" fill="#0000ff" stroke="#0000ff" stroke-width="0.22">115</text>
<text x="477" y="1339.5" font-size="13.2" text-anchor="middle" font-weight="normal" fill="#0000ff" stroke="#0000ff" stroke-width="0.22">129</text>
<text x="497.1" y="1279.7" font-size="13.2" text-anchor="middle" font-weight="normal" fill="#0000ff" stroke="#0000ff" stroke-width="0.22">143</text>
<text x="536.3" y="1280.5" font-size="13.2" text-anchor="middle" font-weight="normal" fill="#0000ff" stroke="#0000ff" stroke-width="0.22">171</text>
<text x="556.6" y="1297.7" font-size="13.2" text-anchor="middle" font-weight="normal" fill="#0000ff" stroke="#0000ff" stroke-width="0.22">185</text>
<text x="576.4" y="1277.8" font-size="13.2" text-anchor="middle" font-weight="normal" fill="#0000ff" stroke="#0000ff" stroke-width="0.22">199</text>
<text x="634.5" y="1291.9" font-size="13.2" text-anchor="middle" font-weight="normal" fill="#0000ff" stroke="#0000ff" stroke-width="0.22">241</text>
<text x="655.3" y="1270.6" font-size="13.2" text-anchor="middle" font-weight="normal" fill="#0000ff" stroke="#0000ff" stroke-width="0.22">255</text>
<text x="695.9" y="1304.7" font-size="13.2" text-anchor="middle" font-weight="normal" fill="#0000ff" stroke="#0000ff" stroke-width="0.22">284</text>
<text x="434.3" y="1104.8" font-size="15.5" text-anchor="start" font-weight="normal" fill="#000" stroke="#000" stroke-width="0.3" textLength="148" lengthAdjust="spacingAndGlyphs">Peak 3 (28.99 min),</text>
<text x="434.3" y="1123.6" font-size="15.5" text-anchor="start" font-weight="normal" fill="#000" stroke="#000" stroke-width="0.3" textLength="205" lengthAdjust="spacingAndGlyphs">Octadecanoic (stearic) acid</text>
<text x="710.8" y="1267" font-size="16.5" text-anchor="start" font-weight="normal" fill="#000" stroke="#000" stroke-width="0.3" textLength="28" lengthAdjust="spacingAndGlyphs">m/z</text>
<polyline points="166.1,966.1 187.1,953.5 208.8,966.1 229.4,953.5 251,966.1 272.7,953.5 294.4,966.1 315,953.5 336.6,966.1 358.3,953.5 379.3,966.1 400.2,953.5 421.9,966.1 442.5,953.5 464.2,966.1 485.1,953.5" fill="none" stroke="#6f6fff" stroke-width="1.3" stroke-linejoin="miter"/>
<line x1="166.1" y1="966.1" x2="150.5" y2="957.4" stroke="#6f6fff" stroke-width="1.3"/>
<line x1="164.9" y1="968.6" x2="149.3" y2="959.9" stroke="#6f6fff" stroke-width="1.3"/>
<line x1="166.1" y1="966.1" x2="166.1" y2="984.5" stroke="#6f6fff" stroke-width="1.3"/>
<text x="138.6" y="959.6" font-size="14.5" text-anchor="start" font-weight="normal" fill="#0000ff" stroke="#0000ff" stroke-width="0.22">O</text>
<text x="155.4" y="995.5" font-size="14.5" text-anchor="start" font-weight="normal" fill="#0000ff" stroke="#0000ff" stroke-width="0.22">OH</text>
<polyline points="739.6,940.8 758,940.8 768,956.9 786.4,956.9 796.7,973 815.7,973 825.4,989.1 845,989.1 853.8,1005.2 871.4,1005.2 881.1,989.7 900.7,989.7 910.4,973.6 929.1,973.6 939.7,959.8 957.8,959.8 968.1,942.2 987.1,942.2" fill="none" stroke="#6f6fff" stroke-width="1.3" stroke-linejoin="miter"/>
<line x1="855.2" y1="1008.6" x2="870.2" y2="1008.6" stroke="#6f6fff" stroke-width="1.3"/>
<line x1="739.6" y1="940.8" x2="731.5" y2="929.5" stroke="#6f6fff" stroke-width="1.3"/>
<line x1="739.6" y1="940.8" x2="731.4" y2="953.6" stroke="#6f6fff" stroke-width="1.3"/>
<line x1="736.8" y1="939.2" x2="728.6" y2="952" stroke="#6f6fff" stroke-width="1.3"/>
<text x="714.2" y="929.6" font-size="14.5" text-anchor="start" font-weight="normal" fill="#0000ff" stroke="#0000ff" stroke-width="0.22">HO</text>
<text x="723.6" y="962.5" font-size="14.5" text-anchor="start" font-weight="normal" fill="#0000ff" stroke="#0000ff" stroke-width="0.22">O</text>
<polyline points="685.8,1318.3 678.3,1331.3 685.8,1344.2 678.3,1357.4 663.4,1357.4 655.8,1370.3 640.7,1370.3 633.4,1357.4 618.3,1357.4 610.7,1370.3 596.3,1370.3 588.7,1357.4 573.7,1357.4 566.4,1344.2 573.7,1331 588.7,1331 596.3,1317.8 610.4,1317.8" fill="none" stroke="#6f6fff" stroke-width="1.3" stroke-linejoin="miter"/>
<line x1="610.4" y1="1317.8" x2="616.5" y2="1328.4" stroke="#6f6fff" stroke-width="1.3"/>
<line x1="610.4" y1="1317.8" x2="617.3" y2="1308.2" stroke="#6f6fff" stroke-width="1.3"/>
<line x1="613.2" y1="1319.3" x2="620.1" y2="1309.7" stroke="#6f6fff" stroke-width="1.3"/>
<text x="613.3" y="1309.8" font-size="14.5" text-anchor="start" font-weight="normal" fill="#0000ff" stroke="#0000ff" stroke-width="0.22">O</text>
<text x="613.3" y="1336.6" font-size="14.5" text-anchor="start" font-weight="normal" fill="#0000ff" stroke="#0000ff" stroke-width="0.22">OH</text>
</svg>
</body></html>
